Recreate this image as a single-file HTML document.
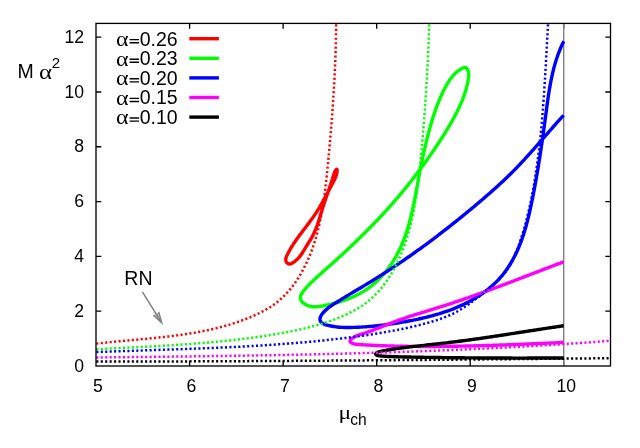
<!DOCTYPE html>
<html><head><meta charset="utf-8"><title>M alpha^2 vs mu_ch</title>
<style>
html,body{margin:0;padding:0;background:#fff;}
body{width:640px;height:448px;overflow:hidden;position:relative;font-family:"Liberation Sans",sans-serif;}
svg text{font-family:"Liberation Sans",sans-serif;fill:#000;}
svg text.sy{font-family:"Liberation Serif",serif;font-size:20px;}
</style></head><body>
<svg width="640" height="448" viewBox="0 0 640 448" style="position:absolute;left:0;top:0;will-change:transform">
<rect x="0" y="0" width="640" height="448" fill="#fff"/>
<defs><clipPath id="c"><rect x="96.0" y="23.4" width="514.5" height="342.6"/></clipPath></defs>
<path d="M189.59 366.00v-5.2M189.59 23.45v5.2M283.12 366.00v-5.2M283.12 23.45v5.2M376.66 366.00v-5.2M376.66 23.45v5.2M470.20 366.00v-5.2M470.20 23.45v5.2M563.73 366.00v-5.2M563.73 23.45v5.2M96.05 311.19h5.2M610.50 311.19h-5.2M96.05 256.38h5.2M610.50 256.38h-5.2M96.05 201.58h5.2M610.50 201.58h-5.2M96.05 146.77h5.2M610.50 146.77h-5.2M96.05 91.96h5.2M610.50 91.96h-5.2M96.05 37.15h5.2M610.50 37.15h-5.2" stroke="#000" stroke-width="1.33" fill="none"/>
<path d="M563.7 23.4V366.0" stroke="#808080" stroke-width="1.4" fill="none"/>
<g clip-path="url(#c)" fill="none" stroke-linejoin="round">
<path d="M288.17 263.74 C287.83 263.58 287.50 263.34 287.21 263.06 C286.92 262.79 286.65 262.44 286.44 262.08 C286.22 261.73 286.05 261.33 285.93 260.94 C285.82 260.55 285.77 260.15 285.75 259.75 C285.74 259.35 285.78 258.95 285.85 258.55 C285.92 258.15 286.04 257.75 286.17 257.35 C286.29 256.95 286.46 256.55 286.63 256.16 C286.80 255.76 286.99 255.37 287.17 254.98 C287.36 254.60 287.55 254.21 287.75 253.84 C287.94 253.46 288.13 253.09 288.32 252.72 C288.51 252.35 288.71 251.98 288.90 251.62 C289.09 251.26 289.29 250.91 289.48 250.55 C289.68 250.20 289.88 249.85 290.08 249.50 C290.28 249.16 290.48 248.81 290.68 248.47 C290.88 248.13 291.08 247.79 291.29 247.45 C291.49 247.11 291.70 246.77 291.91 246.43 C292.11 246.10 292.32 245.76 292.54 245.43 C292.75 245.09 292.96 244.76 293.18 244.43 C293.39 244.09 293.61 243.76 293.83 243.43 C294.05 243.10 294.27 242.77 294.49 242.44 C294.71 242.11 294.94 241.78 295.16 241.45 C295.39 241.12 295.61 240.79 295.84 240.46 C296.07 240.14 296.30 239.81 296.53 239.48 C296.76 239.16 296.99 238.83 297.23 238.50 C297.46 238.18 297.69 237.85 297.93 237.53 C298.16 237.20 298.40 236.88 298.64 236.56 C298.87 236.23 299.11 235.91 299.35 235.59 C299.59 235.26 299.83 234.94 300.07 234.62 C300.31 234.29 300.55 233.97 300.79 233.65 C301.03 233.33 301.27 233.01 301.52 232.68 C301.76 232.36 302.00 232.04 302.25 231.72 C302.49 231.40 302.74 231.08 302.98 230.75 C303.22 230.43 303.47 230.11 303.71 229.79 C303.96 229.47 304.20 229.15 304.45 228.83 C304.69 228.50 304.94 228.18 305.18 227.86 C305.43 227.54 305.68 227.22 305.92 226.90 C306.17 226.57 306.41 226.25 306.66 225.93 C306.90 225.61 307.15 225.29 307.39 224.96 C307.63 224.64 307.88 224.32 308.12 223.99 C308.37 223.67 308.61 223.35 308.85 223.02 C309.09 222.70 309.34 222.38 309.58 222.05 C309.82 221.73 310.06 221.40 310.30 221.08 C310.54 220.75 310.78 220.43 311.02 220.10 C311.26 219.77 311.50 219.45 311.73 219.12 C311.97 218.79 312.21 218.46 312.44 218.13 C312.67 217.81 312.91 217.48 313.14 217.15 C313.37 216.82 313.61 216.49 313.84 216.15 C314.07 215.82 314.30 215.49 314.52 215.16 C314.75 214.83 314.98 214.49 315.20 214.16 C315.43 213.82 315.65 213.49 315.87 213.15 C316.10 212.82 316.32 212.48 316.53 212.14 C316.75 211.80 316.97 211.47 317.19 211.13 C317.40 210.79 317.62 210.45 317.83 210.11 C318.04 209.76 318.25 209.42 318.46 209.08 C318.67 208.74 318.88 208.39 319.09 208.05 C319.30 207.71 319.50 207.36 319.71 207.02 C319.91 206.67 320.12 206.32 320.32 205.98 C320.52 205.63 320.72 205.28 320.93 204.93 C321.13 204.59 321.33 204.24 321.52 203.89 C321.72 203.54 321.92 203.19 322.12 202.84 C322.32 202.49 322.51 202.14 322.71 201.79 C322.90 201.44 323.10 201.08 323.29 200.73 C323.49 200.38 323.68 200.03 323.87 199.68 C324.06 199.32 324.26 198.97 324.45 198.62 C324.64 198.26 324.83 197.91 325.02 197.55 C325.21 197.20 325.40 196.84 325.59 196.49 C325.78 196.14 325.97 195.78 326.16 195.43 C326.35 195.07 326.54 194.71 326.73 194.36 C326.92 194.00 327.11 193.65 327.30 193.29 C327.48 192.94 327.67 192.58 327.86 192.22 C328.05 191.87 328.24 191.51 328.43 191.15 C328.62 190.80 328.80 190.44 328.99 190.09 C329.18 189.73 329.37 189.37 329.56 189.02 C329.75 188.66 329.94 188.30 330.13 187.95 C330.32 187.59 330.51 187.24 330.70 186.88 C330.89 186.52 331.08 186.17 331.27 185.81 C331.47 185.46 331.66 185.10 331.85 184.75 C332.04 184.39 332.24 184.04 332.43 183.68 C332.62 183.32 332.82 182.97 333.01 182.61 C333.20 182.26 333.39 181.90 333.58 181.54 C333.76 181.18 333.95 180.82 334.13 180.46 C334.31 180.10 334.49 179.74 334.66 179.37 C334.83 179.01 334.99 178.64 335.15 178.27 C335.31 177.89 335.47 177.52 335.61 177.14 C335.76 176.76 335.90 176.38 336.03 175.99 C336.16 175.61 336.28 175.22 336.39 174.82 C336.50 174.43 336.60 174.03 336.69 173.62 C336.78 173.22 336.86 172.81 336.93 172.39 C336.99 171.97 337.05 171.53 337.08 171.12 C337.12 170.72 337.15 170.25 337.12 169.96 C337.09 169.66 337.02 169.39 336.89 169.33 C336.75 169.27 336.52 169.40 336.30 169.59 C336.08 169.78 335.80 170.13 335.57 170.45 C335.34 170.78 335.13 171.15 334.94 171.53 C334.74 171.90 334.58 172.30 334.42 172.70 C334.26 173.10 334.12 173.52 333.99 173.93 C333.85 174.34 333.73 174.77 333.60 175.18 C333.48 175.59 333.35 176.01 333.23 176.41 C333.11 176.82 332.98 177.22 332.86 177.62 C332.73 178.02 332.61 178.41 332.49 178.80 C332.36 179.19 332.24 179.58 332.12 179.96 C331.99 180.34 331.87 180.72 331.74 181.10 C331.62 181.48 331.49 181.86 331.37 182.23 C331.24 182.61 331.12 182.98 330.99 183.36 C330.87 183.73 330.74 184.10 330.62 184.48 C330.49 184.85 330.36 185.22 330.24 185.60 C330.11 185.97 329.98 186.35 329.85 186.72 C329.73 187.09 329.60 187.47 329.47 187.85 C329.34 188.22 329.21 188.60 329.08 188.97 C328.95 189.35 328.82 189.73 328.69 190.10 C328.56 190.48 328.43 190.86 328.30 191.23 C328.17 191.61 328.04 191.99 327.91 192.37 C327.78 192.75 327.65 193.13 327.52 193.51 C327.39 193.88 327.26 194.26 327.13 194.64 C327.00 195.02 326.87 195.40 326.73 195.78 C326.60 196.16 326.47 196.55 326.34 196.93 C326.21 197.31 326.08 197.69 325.95 198.07 C325.82 198.45 325.69 198.83 325.56 199.22 C325.43 199.60 325.30 199.98 325.17 200.36 C325.04 200.75 324.92 201.13 324.79 201.51 C324.66 201.90 324.53 202.28 324.40 202.66 C324.27 203.05 324.15 203.43 324.02 203.82 C323.89 204.20 323.77 204.59 323.64 204.97 C323.51 205.35 323.39 205.74 323.26 206.12 C323.14 206.51 323.02 206.89 322.89 207.28 C322.77 207.67 322.65 208.05 322.52 208.44 C322.40 208.82 322.28 209.21 322.16 209.60 C322.04 209.98 321.92 210.37 321.80 210.75 C321.68 211.14 321.56 211.53 321.44 211.91 C321.32 212.30 321.20 212.69 321.09 213.07 C320.97 213.46 320.85 213.85 320.73 214.23 C320.62 214.62 320.50 215.01 320.38 215.39 C320.27 215.78 320.15 216.16 320.03 216.55 C319.91 216.94 319.79 217.32 319.67 217.71 C319.56 218.09 319.44 218.48 319.32 218.86 C319.20 219.25 319.08 219.63 318.95 220.01 C318.83 220.40 318.71 220.78 318.59 221.16 C318.46 221.55 318.34 221.93 318.21 222.31 C318.08 222.69 317.96 223.07 317.83 223.45 C317.70 223.83 317.57 224.21 317.44 224.59 C317.30 224.97 317.17 225.35 317.03 225.72 C316.90 226.10 316.76 226.48 316.62 226.85 C316.48 227.23 316.34 227.60 316.19 227.98 C316.05 228.35 315.90 228.72 315.75 229.10 C315.60 229.47 315.45 229.84 315.29 230.21 C315.14 230.58 314.98 230.95 314.82 231.31 C314.66 231.68 314.50 232.05 314.33 232.41 C314.17 232.78 314.00 233.14 313.82 233.50 C313.65 233.87 313.47 234.23 313.29 234.59 C313.11 234.95 312.93 235.30 312.74 235.66 C312.56 236.02 312.37 236.37 312.17 236.73 C311.98 237.08 311.78 237.43 311.58 237.79 C311.38 238.14 311.17 238.49 310.97 238.84 C310.76 239.19 310.55 239.53 310.34 239.88 C310.13 240.23 309.92 240.57 309.71 240.92 C309.49 241.27 309.28 241.61 309.06 241.95 C308.85 242.30 308.63 242.64 308.42 242.99 C308.20 243.33 307.98 243.67 307.77 244.02 C307.55 244.36 307.34 244.70 307.12 245.05 C306.91 245.39 306.70 245.73 306.48 246.08 C306.27 246.42 306.06 246.77 305.85 247.11 C305.65 247.45 305.44 247.80 305.23 248.14 C305.03 248.49 304.82 248.83 304.62 249.17 C304.41 249.52 304.20 249.86 304.00 250.20 C303.79 250.54 303.58 250.88 303.37 251.22 C303.16 251.56 302.95 251.90 302.74 252.23 C302.53 252.57 302.31 252.90 302.09 253.23 C301.87 253.56 301.65 253.89 301.42 254.22 C301.20 254.55 300.97 254.87 300.73 255.19 C300.50 255.51 300.26 255.83 300.01 256.15 C299.77 256.46 299.52 256.77 299.26 257.08 C299.00 257.39 298.74 257.69 298.47 257.99 C298.19 258.29 297.92 258.59 297.63 258.88 C297.35 259.17 297.05 259.45 296.75 259.74 C296.45 260.02 296.14 260.29 295.82 260.57 C295.50 260.84 295.17 261.10 294.83 261.36 C294.49 261.62 294.14 261.88 293.78 262.13 C293.42 262.37 293.04 262.62 292.66 262.84 C292.29 263.07 291.90 263.28 291.51 263.45 C291.13 263.62 290.74 263.77 290.36 263.86 C289.98 263.95 289.59 264.01 289.23 263.99 C288.87 263.96 288.50 263.89 288.17 263.74Z" stroke="#ff0000" stroke-width="3.4" stroke-linecap="butt"/>
<path d="M325.11 269.87 C324.49 270.42 323.87 270.96 323.25 271.50 C322.64 272.05 322.02 272.59 321.40 273.14 C320.78 273.69 320.16 274.23 319.54 274.78 C318.92 275.34 318.30 275.89 317.68 276.45 C317.06 277.01 316.44 277.58 315.82 278.15 C315.20 278.72 314.58 279.30 313.96 279.89 C313.34 280.48 312.72 281.07 312.09 281.68 C311.47 282.28 310.85 282.90 310.23 283.53 C309.61 284.15 308.98 284.79 308.36 285.44 C307.74 286.10 307.11 286.76 306.49 287.44 C305.87 288.12 305.23 288.82 304.63 289.52 C304.03 290.22 303.43 290.94 302.91 291.66 C302.39 292.38 301.89 293.10 301.50 293.83 C301.11 294.55 300.77 295.27 300.58 295.98 C300.38 296.69 300.26 297.40 300.31 298.09 C300.36 298.78 300.56 299.47 300.88 300.12 C301.20 300.78 301.70 301.42 302.25 302.01 C302.80 302.60 303.49 303.17 304.19 303.67 C304.89 304.17 305.67 304.62 306.44 305.00 C307.20 305.38 307.99 305.68 308.78 305.94 C309.58 306.19 310.38 306.37 311.19 306.51 C312.00 306.65 312.81 306.73 313.63 306.77 C314.46 306.82 315.29 306.81 316.12 306.78 C316.95 306.75 317.79 306.67 318.63 306.58 C319.46 306.48 320.31 306.35 321.15 306.22 C321.99 306.08 322.83 305.91 323.68 305.75 C324.52 305.58 325.36 305.41 326.20 305.23 C327.04 305.05 327.88 304.86 328.71 304.67 C329.55 304.48 330.38 304.28 331.21 304.08 C332.04 303.88 332.87 303.67 333.70 303.45 C334.53 303.24 335.35 303.02 336.17 302.79 C336.99 302.56 337.81 302.33 338.62 302.08 C339.44 301.84 340.25 301.59 341.06 301.34 C341.86 301.08 342.67 300.82 343.47 300.55 C344.27 300.28 345.07 300.00 345.86 299.71 C346.65 299.42 347.44 299.13 348.22 298.83 C349.01 298.52 349.79 298.21 350.56 297.89 C351.33 297.57 352.10 297.24 352.87 296.91 C353.63 296.57 354.39 296.22 355.15 295.87 C355.90 295.51 356.65 295.15 357.40 294.77 C358.14 294.40 358.88 294.02 359.61 293.62 C360.34 293.23 361.07 292.83 361.79 292.41 C362.51 292.00 363.22 291.57 363.93 291.14 C364.64 290.71 365.34 290.26 366.03 289.81 C366.72 289.35 367.41 288.88 368.09 288.41 C368.77 287.93 369.44 287.44 370.11 286.94 C370.77 286.44 371.43 285.93 372.08 285.40 C372.73 284.88 373.38 284.35 374.01 283.81 C374.65 283.26 375.28 282.71 375.90 282.14 C376.52 281.58 377.13 281.01 377.74 280.43 C378.34 279.84 378.94 279.25 379.53 278.65 C380.12 278.05 380.70 277.44 381.28 276.82 C381.85 276.20 382.42 275.58 382.97 274.94 C383.53 274.31 384.08 273.67 384.63 273.02 C385.17 272.37 385.70 271.71 386.23 271.05 C386.76 270.39 387.28 269.72 387.79 269.04 C388.30 268.36 388.80 267.68 389.29 266.99 C389.79 266.30 390.27 265.61 390.75 264.91 C391.23 264.21 391.70 263.51 392.16 262.80 C392.62 262.09 393.07 261.37 393.51 260.65 C393.96 259.94 394.39 259.21 394.82 258.49 C395.25 257.76 395.66 257.03 396.07 256.29 C396.48 255.56 396.89 254.82 397.28 254.08 C397.67 253.34 398.06 252.60 398.43 251.85 C398.81 251.11 399.18 250.36 399.54 249.60 C399.90 248.85 400.25 248.10 400.60 247.34 C400.94 246.58 401.28 245.82 401.61 245.05 C401.94 244.29 402.26 243.52 402.58 242.75 C402.90 241.99 403.21 241.21 403.51 240.44 C403.81 239.67 404.11 238.89 404.40 238.11 C404.69 237.33 404.97 236.55 405.25 235.77 C405.53 234.98 405.80 234.20 406.06 233.41 C406.33 232.62 406.59 231.83 406.85 231.04 C407.10 230.24 407.35 229.45 407.59 228.65 C407.84 227.86 408.08 227.06 408.31 226.26 C408.55 225.46 408.78 224.66 409.00 223.85 C409.22 223.05 409.44 222.25 409.66 221.44 C409.88 220.63 410.09 219.82 410.30 219.01 C410.50 218.20 410.71 217.39 410.91 216.58 C411.11 215.77 411.30 214.95 411.50 214.14 C411.69 213.32 411.88 212.50 412.07 211.69 C412.25 210.87 412.44 210.05 412.62 209.23 C412.80 208.41 412.97 207.59 413.15 206.77 C413.32 205.94 413.50 205.12 413.67 204.30 C413.84 203.47 414.01 202.65 414.17 201.82 C414.34 201.00 414.50 200.17 414.67 199.35 C414.83 198.52 414.99 197.69 415.15 196.86 C415.31 196.04 415.47 195.21 415.62 194.38 C415.78 193.55 415.94 192.72 416.09 191.89 C416.25 191.06 416.40 190.23 416.56 189.41 C416.71 188.58 416.87 187.75 417.02 186.92 C417.17 186.09 417.33 185.26 417.48 184.43 C417.63 183.60 417.79 182.77 417.94 181.94 C418.09 181.11 418.25 180.28 418.40 179.45 C418.56 178.62 418.71 177.79 418.87 176.96 C419.03 176.13 419.18 175.31 419.34 174.48 C419.50 173.65 419.66 172.82 419.82 172.00 C419.98 171.17 420.14 170.34 420.30 169.52 C420.46 168.69 420.62 167.86 420.79 167.04 C420.95 166.21 421.12 165.39 421.28 164.56 C421.45 163.74 421.62 162.91 421.78 162.09 C421.95 161.27 422.12 160.44 422.29 159.62 C422.47 158.80 422.64 157.98 422.81 157.15 C422.99 156.33 423.16 155.51 423.34 154.69 C423.52 153.87 423.70 153.05 423.88 152.23 C424.06 151.41 424.24 150.60 424.43 149.78 C424.61 148.96 424.80 148.14 424.98 147.33 C425.17 146.51 425.36 145.69 425.55 144.88 C425.75 144.06 425.94 143.25 426.14 142.44 C426.33 141.62 426.53 140.81 426.73 140.00 C426.93 139.19 427.13 138.38 427.34 137.57 C427.54 136.76 427.75 135.95 427.96 135.14 C428.17 134.33 428.38 133.52 428.60 132.72 C428.81 131.91 429.03 131.10 429.25 130.30 C429.47 129.50 429.69 128.69 429.91 127.89 C430.14 127.09 430.36 126.28 430.59 125.48 C430.82 124.68 431.06 123.88 431.29 123.08 C431.53 122.29 431.77 121.49 432.01 120.69 C432.25 119.90 432.50 119.10 432.74 118.31 C432.99 117.51 433.24 116.72 433.50 115.93 C433.76 115.13 434.02 114.34 434.28 113.55 C434.54 112.76 434.81 111.98 435.08 111.19 C435.36 110.40 435.63 109.62 435.91 108.83 C436.20 108.05 436.48 107.27 436.77 106.49 C437.07 105.70 437.36 104.92 437.67 104.15 C437.97 103.37 438.28 102.59 438.59 101.82 C438.90 101.04 439.22 100.27 439.55 99.50 C439.88 98.72 440.21 97.95 440.55 97.18 C440.89 96.42 441.23 95.65 441.58 94.88 C441.93 94.12 442.29 93.35 442.66 92.59 C443.03 91.83 443.40 91.07 443.78 90.31 C444.16 89.55 444.55 88.80 444.95 88.04 C445.34 87.29 445.75 86.54 446.16 85.79 C446.58 85.05 447.00 84.30 447.44 83.57 C447.87 82.84 448.32 82.11 448.78 81.40 C449.24 80.69 449.72 79.98 450.21 79.29 C450.70 78.61 451.20 77.93 451.72 77.27 C452.25 76.61 452.78 75.97 453.34 75.35 C453.90 74.73 454.48 74.12 455.07 73.54 C455.67 72.96 456.29 72.40 456.93 71.87 C457.56 71.33 458.22 70.82 458.91 70.34 C459.60 69.86 460.30 69.41 461.04 68.98 C461.77 68.56 462.56 68.04 463.32 67.81 C464.08 67.59 464.93 67.37 465.61 67.64 C466.30 67.91 466.97 68.74 467.44 69.42 C467.91 70.10 468.22 70.92 468.44 71.71 C468.66 72.51 468.73 73.34 468.76 74.18 C468.79 75.02 468.71 75.89 468.63 76.75 C468.55 77.61 468.41 78.48 468.27 79.33 C468.14 80.19 467.99 81.04 467.82 81.88 C467.66 82.72 467.49 83.56 467.31 84.39 C467.12 85.22 466.93 86.05 466.72 86.87 C466.51 87.69 466.29 88.50 466.07 89.31 C465.84 90.12 465.60 90.92 465.35 91.72 C465.11 92.52 464.85 93.31 464.58 94.11 C464.31 94.90 464.04 95.68 463.75 96.46 C463.47 97.24 463.18 98.02 462.87 98.80 C462.57 99.57 462.26 100.34 461.95 101.11 C461.63 101.87 461.30 102.64 460.97 103.40 C460.64 104.16 460.30 104.92 459.96 105.67 C459.61 106.43 459.26 107.18 458.91 107.93 C458.55 108.68 458.19 109.43 457.82 110.17 C457.45 110.92 457.08 111.66 456.70 112.41 C456.32 113.15 455.94 113.89 455.55 114.63 C455.16 115.37 454.77 116.11 454.38 116.84 C453.98 117.58 453.58 118.32 453.18 119.05 C452.77 119.79 452.37 120.52 451.96 121.25 C451.54 121.98 451.13 122.71 450.71 123.44 C450.29 124.17 449.87 124.90 449.44 125.62 C449.02 126.35 448.59 127.07 448.16 127.80 C447.73 128.52 447.29 129.24 446.85 129.96 C446.42 130.69 445.98 131.41 445.53 132.12 C445.09 132.84 444.64 133.56 444.20 134.27 C443.75 134.99 443.30 135.70 442.84 136.42 C442.39 137.13 441.93 137.84 441.48 138.55 C441.02 139.26 440.56 139.97 440.10 140.68 C439.64 141.38 439.17 142.09 438.71 142.79 C438.24 143.50 437.77 144.20 437.31 144.90 C436.84 145.60 436.37 146.30 435.90 147.00 C435.43 147.70 434.95 148.40 434.48 149.10 C434.01 149.79 433.53 150.49 433.06 151.18 C432.58 151.87 432.11 152.57 431.63 153.26 C431.15 153.95 430.67 154.64 430.19 155.33 C429.71 156.01 429.23 156.70 428.75 157.39 C428.27 158.07 427.79 158.76 427.30 159.44 C426.82 160.12 426.33 160.80 425.85 161.48 C425.36 162.16 424.87 162.84 424.38 163.52 C423.89 164.20 423.40 164.87 422.91 165.55 C422.42 166.23 421.93 166.90 421.43 167.57 C420.94 168.24 420.44 168.92 419.94 169.59 C419.44 170.26 418.95 170.93 418.44 171.59 C417.94 172.26 417.44 172.93 416.94 173.59 C416.43 174.26 415.93 174.92 415.42 175.59 C414.92 176.25 414.41 176.91 413.90 177.57 C413.39 178.23 412.87 178.89 412.36 179.55 C411.85 180.21 411.33 180.87 410.81 181.52 C410.30 182.18 409.78 182.83 409.26 183.49 C408.74 184.14 408.21 184.79 407.69 185.45 C407.16 186.10 406.64 186.75 406.11 187.40 C405.58 188.05 405.05 188.70 404.52 189.34 C403.99 189.99 403.45 190.64 402.92 191.28 C402.38 191.93 401.84 192.57 401.30 193.21 C400.76 193.86 400.22 194.50 399.68 195.14 C399.14 195.78 398.59 196.42 398.05 197.06 C397.50 197.70 396.95 198.33 396.40 198.97 C395.85 199.61 395.30 200.24 394.75 200.88 C394.20 201.51 393.64 202.14 393.09 202.77 C392.53 203.41 391.98 204.04 391.42 204.67 C390.86 205.30 390.30 205.92 389.74 206.55 C389.17 207.18 388.61 207.81 388.05 208.43 C387.48 209.06 386.91 209.68 386.35 210.30 C385.78 210.93 385.21 211.55 384.64 212.17 C384.07 212.79 383.50 213.41 382.93 214.03 C382.35 214.64 381.78 215.26 381.20 215.88 C380.63 216.49 380.05 217.11 379.47 217.72 C378.89 218.34 378.31 218.95 377.73 219.56 C377.15 220.17 376.57 220.78 375.99 221.39 C375.41 222.00 374.82 222.61 374.24 223.22 C373.65 223.82 373.06 224.43 372.48 225.03 C371.89 225.64 371.30 226.24 370.71 226.85 C370.12 227.45 369.53 228.05 368.94 228.65 C368.35 229.25 367.76 229.85 367.16 230.45 C366.57 231.04 365.97 231.64 365.38 232.24 C364.78 232.83 364.19 233.43 363.59 234.02 C362.99 234.61 362.39 235.21 361.79 235.80 C361.19 236.39 360.59 236.98 359.99 237.57 C359.39 238.16 358.79 238.74 358.19 239.33 C357.59 239.92 356.98 240.50 356.38 241.09 C355.77 241.67 355.17 242.25 354.56 242.83 C353.96 243.42 353.35 244.00 352.74 244.58 C352.14 245.16 351.53 245.74 350.92 246.31 C350.31 246.89 349.71 247.47 349.10 248.04 C348.49 248.62 347.88 249.19 347.27 249.76 C346.66 250.33 346.04 250.91 345.43 251.48 C344.82 252.05 344.21 252.62 343.60 253.18 C342.98 253.75 342.37 254.32 341.76 254.88 C341.14 255.45 340.53 256.01 339.91 256.58 C339.30 257.14 338.69 257.70 338.07 258.26 C337.45 258.83 336.84 259.39 336.22 259.94 C335.61 260.50 334.99 261.06 334.37 261.62 C333.76 262.17 333.14 262.73 332.52 263.28 C331.91 263.84 331.29 264.39 330.67 264.94 C330.06 265.49 329.44 266.04 328.82 266.59 C328.20 267.14 327.58 267.69 326.97 268.24 C326.35 268.78 325.73 269.33 325.11 269.87Z" stroke="#00ff00" stroke-width="3.4" stroke-linecap="butt"/>
<path d="M563.63 115.27 C563.35 115.58 562.51 116.50 561.95 117.12 C561.39 117.74 560.83 118.35 560.27 118.97 C559.71 119.59 559.16 120.22 558.60 120.84 C558.04 121.46 557.49 122.08 556.93 122.71 C556.38 123.33 555.82 123.96 555.27 124.58 C554.72 125.21 554.16 125.84 553.61 126.46 C553.06 127.09 552.51 127.72 551.96 128.35 C551.41 128.97 550.85 129.60 550.30 130.23 C549.75 130.86 549.20 131.49 548.65 132.12 C548.10 132.75 547.55 133.38 547.00 134.01 C546.45 134.64 545.90 135.27 545.35 135.90 C544.80 136.53 544.25 137.16 543.70 137.79 C543.15 138.42 542.60 139.06 542.05 139.69 C541.50 140.32 540.95 140.95 540.40 141.58 C539.85 142.21 539.30 142.84 538.75 143.47 C538.20 144.10 537.64 144.72 537.09 145.35 C536.54 145.98 535.99 146.61 535.43 147.24 C534.88 147.86 534.32 148.49 533.77 149.12 C533.21 149.74 532.66 150.37 532.10 150.99 C531.54 151.62 530.98 152.24 530.43 152.86 C529.87 153.49 529.31 154.11 528.75 154.73 C528.18 155.35 527.62 155.97 527.06 156.59 C526.50 157.21 525.93 157.83 525.37 158.44 C524.80 159.06 524.23 159.67 523.67 160.29 C523.10 160.90 522.53 161.51 521.96 162.12 C521.38 162.74 520.81 163.34 520.24 163.95 C519.66 164.56 519.09 165.17 518.51 165.77 C517.93 166.37 517.35 166.98 516.77 167.58 C516.19 168.18 515.60 168.78 515.02 169.38 C514.43 169.97 513.85 170.57 513.26 171.16 C512.67 171.75 512.08 172.35 511.48 172.93 C510.89 173.52 510.30 174.11 509.70 174.70 C509.10 175.28 508.50 175.87 507.90 176.45 C507.30 177.03 506.70 177.61 506.09 178.19 C505.49 178.77 504.88 179.34 504.28 179.92 C503.67 180.49 503.06 181.06 502.45 181.64 C501.84 182.21 501.23 182.78 500.61 183.35 C500.00 183.91 499.38 184.48 498.76 185.05 C498.15 185.61 497.53 186.18 496.91 186.74 C496.29 187.30 495.67 187.86 495.05 188.42 C494.42 188.98 493.80 189.54 493.18 190.10 C492.55 190.65 491.92 191.21 491.30 191.76 C490.67 192.32 490.04 192.87 489.41 193.42 C488.78 193.98 488.15 194.53 487.52 195.08 C486.89 195.63 486.25 196.17 485.62 196.72 C484.99 197.27 484.35 197.82 483.72 198.36 C483.08 198.91 482.44 199.45 481.81 200.00 C481.17 200.54 480.53 201.08 479.89 201.63 C479.25 202.17 478.61 202.71 477.97 203.25 C477.33 203.79 476.69 204.33 476.05 204.87 C475.41 205.41 474.77 205.95 474.12 206.48 C473.48 207.02 472.84 207.56 472.19 208.09 C471.55 208.63 470.91 209.16 470.26 209.70 C469.62 210.23 468.97 210.77 468.32 211.30 C467.68 211.83 467.03 212.37 466.38 212.90 C465.73 213.43 465.09 213.96 464.44 214.49 C463.79 215.02 463.14 215.55 462.49 216.08 C461.84 216.61 461.19 217.14 460.54 217.66 C459.89 218.19 459.24 218.72 458.58 219.24 C457.93 219.77 457.28 220.29 456.62 220.82 C455.97 221.34 455.32 221.86 454.66 222.39 C454.01 222.91 453.35 223.43 452.70 223.95 C452.04 224.47 451.38 224.99 450.73 225.51 C450.07 226.03 449.41 226.55 448.75 227.07 C448.09 227.58 447.43 228.10 446.77 228.62 C446.11 229.13 445.45 229.65 444.79 230.16 C444.13 230.68 443.47 231.19 442.81 231.70 C442.14 232.21 441.48 232.72 440.82 233.24 C440.15 233.75 439.49 234.26 438.82 234.76 C438.16 235.27 437.49 235.78 436.83 236.29 C436.16 236.79 435.49 237.30 434.83 237.81 C434.16 238.31 433.49 238.81 432.82 239.32 C432.15 239.82 431.48 240.32 430.81 240.82 C430.14 241.33 429.47 241.83 428.80 242.33 C428.13 242.82 427.45 243.32 426.78 243.82 C426.11 244.32 425.43 244.81 424.76 245.31 C424.08 245.81 423.41 246.30 422.73 246.79 C422.06 247.29 421.38 247.78 420.70 248.27 C420.02 248.76 419.35 249.25 418.67 249.74 C417.99 250.23 417.31 250.72 416.63 251.21 C415.95 251.69 415.27 252.18 414.59 252.67 C413.90 253.15 413.22 253.64 412.54 254.12 C411.85 254.60 411.17 255.08 410.49 255.57 C409.80 256.05 409.12 256.53 408.43 257.01 C407.74 257.49 407.06 257.96 406.37 258.44 C405.68 258.92 404.99 259.39 404.30 259.87 C403.62 260.34 402.93 260.81 402.24 261.29 C401.54 261.76 400.85 262.23 400.16 262.70 C399.47 263.17 398.78 263.64 398.08 264.11 C397.39 264.58 396.70 265.04 396.00 265.51 C395.30 265.97 394.61 266.44 393.91 266.90 C393.22 267.37 392.52 267.83 391.82 268.29 C391.12 268.75 390.42 269.21 389.72 269.67 C389.02 270.13 388.32 270.58 387.62 271.04 C386.92 271.50 386.22 271.95 385.52 272.40 C384.81 272.86 384.11 273.31 383.40 273.76 C382.70 274.21 382.00 274.66 381.29 275.11 C380.58 275.56 379.88 276.01 379.17 276.46 C378.46 276.90 377.75 277.35 377.04 277.79 C376.33 278.24 375.62 278.68 374.91 279.12 C374.20 279.56 373.49 280.00 372.78 280.44 C372.07 280.88 371.35 281.32 370.64 281.75 C369.92 282.19 369.21 282.63 368.49 283.06 C367.78 283.49 367.06 283.93 366.34 284.36 C365.63 284.79 364.91 285.22 364.19 285.65 C363.47 286.08 362.75 286.51 362.04 286.94 C361.32 287.37 360.60 287.80 359.88 288.22 C359.16 288.65 358.44 289.08 357.72 289.51 C357.00 289.93 356.28 290.36 355.56 290.79 C354.84 291.22 354.12 291.65 353.41 292.07 C352.69 292.50 351.97 292.93 351.25 293.36 C350.53 293.79 349.81 294.22 349.10 294.65 C348.38 295.08 347.66 295.51 346.95 295.94 C346.23 296.38 345.52 296.81 344.80 297.24 C344.09 297.68 343.38 298.11 342.66 298.55 C341.95 298.99 341.24 299.43 340.53 299.87 C339.82 300.31 339.11 300.75 338.40 301.19 C337.70 301.64 336.99 302.08 336.28 302.53 C335.58 302.98 334.88 303.43 334.17 303.88 C333.47 304.33 332.77 304.78 332.07 305.25 C331.38 305.71 330.68 306.18 330.00 306.67 C329.31 307.16 328.63 307.66 327.96 308.19 C327.29 308.73 326.62 309.28 325.97 309.87 C325.32 310.47 324.67 311.09 324.06 311.75 C323.45 312.41 322.83 313.12 322.30 313.83 C321.78 314.54 321.28 315.28 320.91 316.00 C320.54 316.71 320.23 317.45 320.09 318.14 C319.94 318.83 319.91 319.52 320.04 320.15 C320.16 320.77 320.44 321.37 320.83 321.90 C321.23 322.42 321.78 322.88 322.41 323.29 C323.03 323.69 323.80 324.03 324.58 324.33 C325.36 324.63 326.24 324.88 327.10 325.11 C327.96 325.34 328.85 325.54 329.72 325.73 C330.59 325.91 331.46 326.08 332.33 326.23 C333.19 326.38 334.05 326.52 334.91 326.64 C335.77 326.76 336.62 326.86 337.47 326.95 C338.33 327.04 339.17 327.12 340.02 327.18 C340.87 327.25 341.71 327.30 342.55 327.34 C343.39 327.38 344.23 327.41 345.07 327.44 C345.91 327.46 346.75 327.47 347.58 327.47 C348.42 327.48 349.25 327.48 350.09 327.47 C350.92 327.46 351.76 327.44 352.59 327.42 C353.42 327.40 354.26 327.38 355.09 327.35 C355.92 327.32 356.76 327.29 357.59 327.25 C358.42 327.22 359.26 327.18 360.09 327.14 C360.92 327.09 361.76 327.05 362.59 326.99 C363.42 326.94 364.26 326.89 365.09 326.83 C365.92 326.77 366.76 326.71 367.59 326.65 C368.42 326.58 369.26 326.51 370.09 326.44 C370.92 326.37 371.76 326.30 372.59 326.22 C373.42 326.14 374.25 326.06 375.09 325.97 C375.92 325.89 376.75 325.80 377.58 325.71 C378.42 325.62 379.25 325.52 380.08 325.43 C380.91 325.33 381.74 325.23 382.57 325.13 C383.41 325.02 384.24 324.92 385.07 324.81 C385.90 324.70 386.73 324.59 387.56 324.47 C388.39 324.36 389.22 324.24 390.05 324.12 C390.88 324.00 391.71 323.88 392.54 323.76 C393.37 323.63 394.20 323.50 395.03 323.37 C395.85 323.24 396.68 323.11 397.51 322.98 C398.34 322.84 399.17 322.71 399.99 322.57 C400.82 322.43 401.65 322.29 402.47 322.14 C403.30 322.00 404.12 321.85 404.95 321.71 C405.77 321.56 406.60 321.41 407.42 321.26 C408.25 321.10 409.07 320.95 409.90 320.79 C410.72 320.63 411.54 320.48 412.36 320.31 C413.19 320.15 414.01 319.99 414.83 319.82 C415.65 319.65 416.47 319.48 417.29 319.31 C418.11 319.13 418.93 318.96 419.74 318.78 C420.56 318.60 421.38 318.42 422.19 318.23 C423.01 318.04 423.82 317.85 424.64 317.66 C425.45 317.47 426.26 317.27 427.07 317.07 C427.88 316.87 428.69 316.66 429.50 316.46 C430.31 316.25 431.12 316.04 431.93 315.82 C432.73 315.60 433.54 315.38 434.34 315.16 C435.15 314.93 435.95 314.70 436.75 314.47 C437.55 314.23 438.35 314.00 439.15 313.75 C439.95 313.51 440.74 313.26 441.54 313.01 C442.33 312.75 443.13 312.50 443.92 312.23 C444.71 311.97 445.50 311.70 446.29 311.43 C447.08 311.16 447.86 310.88 448.65 310.59 C449.43 310.31 450.22 310.02 451.00 309.72 C451.78 309.43 452.56 309.13 453.34 308.82 C454.11 308.51 454.89 308.20 455.66 307.88 C456.43 307.56 457.21 307.24 457.97 306.91 C458.74 306.58 459.51 306.24 460.28 305.89 C461.04 305.55 461.80 305.20 462.56 304.84 C463.32 304.49 464.08 304.12 464.84 303.75 C465.59 303.38 466.35 303.01 467.10 302.62 C467.85 302.24 468.59 301.85 469.34 301.45 C470.08 301.05 470.82 300.65 471.56 300.24 C472.29 299.83 473.03 299.41 473.75 298.98 C474.48 298.56 475.21 298.13 475.93 297.69 C476.65 297.25 477.36 296.80 478.07 296.35 C478.78 295.90 479.49 295.44 480.19 294.97 C480.89 294.50 481.59 294.03 482.28 293.55 C482.97 293.07 483.65 292.58 484.33 292.08 C485.01 291.59 485.68 291.08 486.35 290.57 C487.02 290.06 487.68 289.54 488.33 289.02 C488.98 288.49 489.63 287.96 490.27 287.42 C490.91 286.88 491.54 286.33 492.17 285.78 C492.79 285.22 493.41 284.66 494.02 284.09 C494.63 283.52 495.24 282.94 495.83 282.36 C496.43 281.77 497.01 281.18 497.59 280.58 C498.17 279.98 498.74 279.37 499.30 278.75 C499.86 278.14 500.41 277.51 500.96 276.88 C501.50 276.25 502.03 275.61 502.56 274.96 C503.09 274.32 503.60 273.66 504.11 273.00 C504.62 272.34 505.12 271.68 505.61 271.00 C506.10 270.33 506.58 269.65 507.06 268.96 C507.53 268.28 508.00 267.58 508.46 266.88 C508.92 266.19 509.37 265.48 509.81 264.77 C510.25 264.06 510.68 263.35 511.11 262.63 C511.54 261.91 511.95 261.18 512.36 260.45 C512.77 259.72 513.18 258.99 513.57 258.25 C513.97 257.51 514.36 256.77 514.74 256.02 C515.12 255.27 515.49 254.52 515.85 253.77 C516.22 253.01 516.58 252.25 516.93 251.49 C517.28 250.73 517.62 249.96 517.96 249.20 C518.30 248.43 518.63 247.66 518.95 246.89 C519.28 246.11 519.59 245.34 519.90 244.56 C520.21 243.78 520.52 243.00 520.81 242.22 C521.11 241.43 521.40 240.65 521.69 239.86 C521.97 239.08 522.25 238.29 522.52 237.50 C522.80 236.71 523.06 235.91 523.33 235.12 C523.59 234.32 523.84 233.53 524.10 232.73 C524.35 231.93 524.59 231.13 524.84 230.33 C525.08 229.53 525.31 228.72 525.55 227.92 C525.78 227.12 526.01 226.31 526.23 225.50 C526.45 224.69 526.67 223.89 526.89 223.08 C527.10 222.27 527.32 221.46 527.52 220.64 C527.73 219.83 527.94 219.02 528.14 218.20 C528.34 217.39 528.54 216.58 528.73 215.76 C528.92 214.94 529.12 214.13 529.30 213.31 C529.49 212.49 529.68 211.67 529.86 210.86 C530.05 210.04 530.23 209.22 530.41 208.40 C530.59 207.58 530.76 206.76 530.94 205.94 C531.11 205.12 531.29 204.30 531.46 203.48 C531.63 202.66 531.80 201.83 531.97 201.01 C532.14 200.19 532.30 199.37 532.47 198.55 C532.63 197.73 532.80 196.91 532.96 196.08 C533.12 195.26 533.29 194.44 533.45 193.62 C533.61 192.80 533.77 191.97 533.92 191.15 C534.08 190.33 534.24 189.51 534.39 188.68 C534.55 187.86 534.70 187.04 534.85 186.22 C535.01 185.39 535.16 184.57 535.31 183.75 C535.46 182.92 535.61 182.10 535.76 181.28 C535.90 180.45 536.05 179.63 536.20 178.81 C536.34 177.98 536.49 177.16 536.63 176.33 C536.77 175.51 536.91 174.69 537.06 173.86 C537.20 173.04 537.34 172.21 537.48 171.39 C537.62 170.56 537.75 169.74 537.89 168.91 C538.03 168.09 538.16 167.26 538.30 166.44 C538.43 165.61 538.57 164.79 538.70 163.96 C538.84 163.14 538.97 162.31 539.10 161.49 C539.23 160.66 539.36 159.83 539.49 159.01 C539.62 158.18 539.75 157.35 539.88 156.53 C540.01 155.70 540.13 154.88 540.26 154.05 C540.39 153.22 540.51 152.40 540.64 151.57 C540.76 150.74 540.89 149.91 541.01 149.09 C541.13 148.26 541.25 147.43 541.38 146.60 C541.50 145.78 541.62 144.95 541.74 144.12 C541.86 143.29 541.98 142.46 542.10 141.64 C542.22 140.81 542.34 139.98 542.46 139.15 C542.58 138.32 542.69 137.49 542.81 136.66 C542.93 135.84 543.04 135.01 543.16 134.18 C543.28 133.35 543.39 132.52 543.51 131.69 C543.62 130.86 543.74 130.03 543.85 129.20 C543.96 128.37 544.08 127.54 544.19 126.71 C544.30 125.88 544.42 125.05 544.53 124.22 C544.64 123.39 544.75 122.56 544.87 121.73 C544.98 120.90 545.09 120.07 545.20 119.23 C545.31 118.40 545.42 117.57 545.53 116.74 C545.64 115.91 545.75 115.08 545.86 114.25 C545.97 113.41 546.08 112.58 546.19 111.75 C546.30 110.92 546.41 110.09 546.52 109.25 C546.63 108.42 546.74 107.59 546.86 106.76 C546.97 105.93 547.08 105.10 547.19 104.26 C547.31 103.43 547.42 102.60 547.54 101.77 C547.66 100.94 547.77 100.11 547.89 99.28 C548.01 98.45 548.13 97.62 548.25 96.79 C548.38 95.96 548.50 95.13 548.63 94.30 C548.76 93.47 548.89 92.65 549.02 91.82 C549.15 90.99 549.29 90.17 549.42 89.34 C549.56 88.51 549.70 87.69 549.85 86.86 C549.99 86.04 550.14 85.22 550.29 84.39 C550.44 83.57 550.59 82.75 550.75 81.93 C550.91 81.11 551.07 80.29 551.24 79.47 C551.40 78.65 551.57 77.83 551.75 77.02 C551.92 76.20 552.10 75.39 552.29 74.57 C552.47 73.76 552.66 72.94 552.85 72.13 C553.05 71.32 553.25 70.51 553.45 69.70 C553.66 68.89 553.87 68.09 554.08 67.28 C554.30 66.48 554.52 65.67 554.75 64.87 C554.97 64.07 555.21 63.26 555.45 62.46 C555.69 61.67 555.93 60.87 556.19 60.07 C556.44 59.28 556.70 58.48 556.97 57.69 C557.23 56.90 557.51 56.11 557.79 55.32 C558.07 54.53 558.35 53.74 558.65 52.96 C558.95 52.17 559.25 51.39 559.56 50.61 C559.87 49.83 560.19 49.05 560.52 48.27 C560.84 47.50 561.18 46.72 561.52 45.95 C561.87 45.18 562.22 44.41 562.58 43.64 C562.94 42.88 563.51 41.73 563.69 41.35" stroke="#0000ff" stroke-width="3.4" stroke-linecap="butt"/>
<path d="M563.72 261.76 C563.32 261.90 562.14 262.35 561.35 262.65 C560.56 262.95 559.77 263.25 558.98 263.55 C558.19 263.84 557.41 264.14 556.62 264.44 C555.83 264.74 555.04 265.04 554.25 265.34 C553.47 265.64 552.68 265.94 551.89 266.25 C551.11 266.55 550.32 266.85 549.53 267.15 C548.74 267.45 547.96 267.75 547.17 268.05 C546.38 268.35 545.60 268.66 544.81 268.96 C544.03 269.26 543.24 269.56 542.45 269.86 C541.67 270.17 540.88 270.47 540.09 270.77 C539.31 271.07 538.52 271.37 537.74 271.68 C536.95 271.98 536.17 272.28 535.38 272.58 C534.59 272.89 533.81 273.19 533.02 273.49 C532.24 273.79 531.45 274.10 530.67 274.40 C529.88 274.70 529.10 275.00 528.31 275.31 C527.53 275.61 526.74 275.91 525.95 276.21 C525.17 276.51 524.38 276.82 523.60 277.12 C522.81 277.42 522.03 277.72 521.24 278.02 C520.46 278.32 519.67 278.63 518.89 278.93 C518.10 279.23 517.31 279.53 516.53 279.83 C515.74 280.13 514.96 280.43 514.17 280.73 C513.39 281.03 512.60 281.33 511.81 281.63 C511.03 281.93 510.24 282.23 509.46 282.53 C508.67 282.83 507.88 283.12 507.10 283.42 C506.31 283.72 505.52 284.02 504.74 284.32 C503.95 284.61 503.16 284.91 502.38 285.21 C501.59 285.50 500.80 285.80 500.02 286.10 C499.23 286.39 498.44 286.69 497.65 286.98 C496.87 287.28 496.08 287.57 495.29 287.86 C494.50 288.16 493.71 288.45 492.93 288.74 C492.14 289.04 491.35 289.33 490.56 289.62 C489.77 289.91 488.98 290.20 488.19 290.49 C487.40 290.78 486.61 291.07 485.82 291.36 C485.03 291.65 484.24 291.94 483.45 292.23 C482.66 292.51 481.87 292.80 481.08 293.09 C480.29 293.37 479.50 293.66 478.71 293.94 C477.92 294.23 477.13 294.51 476.33 294.79 C475.54 295.08 474.75 295.36 473.96 295.64 C473.16 295.92 472.37 296.20 471.58 296.48 C470.78 296.76 469.99 297.04 469.19 297.32 C468.40 297.60 467.61 297.88 466.81 298.15 C466.02 298.43 465.22 298.70 464.42 298.98 C463.63 299.25 462.83 299.53 462.04 299.80 C461.24 300.07 460.44 300.34 459.65 300.61 C458.85 300.89 458.05 301.15 457.25 301.42 C456.45 301.69 455.65 301.96 454.86 302.23 C454.06 302.49 453.26 302.76 452.46 303.02 C451.66 303.29 450.86 303.55 450.06 303.81 C449.25 304.07 448.45 304.33 447.65 304.59 C446.85 304.85 446.05 305.11 445.24 305.37 C444.44 305.63 443.64 305.88 442.83 306.14 C442.03 306.39 441.22 306.65 440.42 306.90 C439.61 307.15 438.81 307.40 438.00 307.66 C437.20 307.91 436.39 308.16 435.58 308.41 C434.78 308.66 433.97 308.90 433.16 309.15 C432.36 309.40 431.55 309.65 430.74 309.90 C429.94 310.14 429.13 310.39 428.32 310.64 C427.51 310.89 426.71 311.14 425.90 311.38 C425.09 311.63 424.29 311.88 423.48 312.13 C422.68 312.38 421.87 312.63 421.06 312.88 C420.26 313.13 419.45 313.38 418.65 313.63 C417.84 313.88 417.04 314.13 416.24 314.39 C415.43 314.64 414.63 314.89 413.83 315.15 C413.03 315.41 412.22 315.66 411.42 315.92 C410.62 316.18 409.82 316.44 409.02 316.70 C408.23 316.97 407.43 317.23 406.63 317.49 C405.83 317.76 405.04 318.03 404.24 318.30 C403.45 318.57 402.65 318.84 401.86 319.12 C401.07 319.39 400.28 319.67 399.49 319.95 C398.70 320.23 397.91 320.51 397.12 320.80 C396.34 321.08 395.55 321.37 394.77 321.66 C393.98 321.95 393.20 322.25 392.42 322.54 C391.64 322.84 390.86 323.14 390.08 323.45 C389.30 323.75 388.53 324.05 387.75 324.36 C386.97 324.67 386.20 324.98 385.42 325.29 C384.64 325.60 383.87 325.91 383.09 326.22 C382.31 326.53 381.53 326.84 380.75 327.15 C379.97 327.46 379.19 327.77 378.40 328.08 C377.62 328.39 376.83 328.70 376.04 329.00 C375.26 329.31 374.46 329.61 373.67 329.91 C372.87 330.21 372.08 330.51 371.27 330.80 C370.47 331.09 369.66 331.38 368.85 331.67 C368.04 331.95 367.22 332.23 366.40 332.51 C365.58 332.78 364.75 333.05 363.92 333.32 C363.09 333.59 362.25 333.84 361.43 334.12 C360.60 334.39 359.78 334.66 358.97 334.95 C358.17 335.25 357.37 335.55 356.61 335.89 C355.84 336.22 355.10 336.57 354.39 336.97 C353.68 337.37 352.99 337.79 352.36 338.26 C351.73 338.73 350.97 339.26 350.58 339.81 C350.19 340.35 349.85 341.00 350.02 341.53 C350.19 342.06 350.97 342.58 351.60 342.97 C352.23 343.36 353.01 343.64 353.79 343.86 C354.56 344.09 355.41 344.22 356.25 344.33 C357.10 344.45 357.99 344.50 358.87 344.56 C359.75 344.62 360.64 344.67 361.52 344.72 C362.40 344.77 363.27 344.82 364.15 344.86 C365.02 344.91 365.89 344.96 366.76 345.00 C367.63 345.05 368.49 345.09 369.36 345.14 C370.22 345.18 371.08 345.22 371.94 345.26 C372.80 345.30 373.66 345.34 374.51 345.38 C375.37 345.42 376.22 345.45 377.07 345.49 C377.92 345.53 378.77 345.56 379.62 345.59 C380.47 345.63 381.31 345.66 382.16 345.69 C383.00 345.72 383.84 345.75 384.69 345.78 C385.53 345.81 386.37 345.84 387.21 345.86 C388.05 345.89 388.89 345.92 389.73 345.94 C390.57 345.96 391.40 345.99 392.24 346.01 C393.08 346.03 393.91 346.06 394.75 346.08 C395.58 346.10 396.42 346.12 397.25 346.14 C398.09 346.16 398.92 346.17 399.76 346.19 C400.59 346.21 401.43 346.22 402.26 346.24 C403.10 346.25 403.93 346.27 404.77 346.28 C405.60 346.30 406.44 346.31 407.28 346.32 C408.11 346.33 408.95 346.35 409.78 346.36 C410.62 346.37 411.46 346.38 412.29 346.39 C413.13 346.40 413.97 346.40 414.80 346.41 C415.64 346.42 416.48 346.42 417.32 346.43 C418.15 346.44 418.99 346.44 419.83 346.45 C420.67 346.45 421.51 346.45 422.35 346.46 C423.18 346.46 424.02 346.46 424.86 346.46 C425.70 346.47 426.54 346.47 427.38 346.47 C428.22 346.47 429.06 346.47 429.90 346.47 C430.74 346.46 431.58 346.46 432.42 346.46 C433.26 346.46 434.10 346.45 434.94 346.45 C435.78 346.45 436.62 346.44 437.46 346.44 C438.30 346.43 439.14 346.42 439.98 346.42 C440.82 346.41 441.66 346.40 442.50 346.40 C443.34 346.39 444.18 346.38 445.02 346.37 C445.87 346.36 446.71 346.35 447.55 346.34 C448.39 346.33 449.23 346.32 450.07 346.31 C450.92 346.30 451.76 346.29 452.60 346.27 C453.44 346.26 454.28 346.25 455.13 346.23 C455.97 346.22 456.81 346.21 457.65 346.19 C458.49 346.18 459.34 346.16 460.18 346.14 C461.02 346.13 461.86 346.11 462.71 346.10 C463.55 346.08 464.39 346.06 465.24 346.04 C466.08 346.03 466.92 346.01 467.76 345.99 C468.61 345.97 469.45 345.95 470.29 345.93 C471.14 345.91 471.98 345.89 472.82 345.87 C473.67 345.85 474.51 345.83 475.35 345.80 C476.19 345.78 477.04 345.76 477.88 345.74 C478.72 345.72 479.57 345.69 480.41 345.67 C481.25 345.65 482.10 345.62 482.94 345.60 C483.78 345.57 484.63 345.55 485.47 345.52 C486.31 345.50 487.16 345.47 488.00 345.45 C488.84 345.42 489.69 345.39 490.53 345.37 C491.37 345.34 492.22 345.31 493.06 345.29 C493.90 345.26 494.75 345.23 495.59 345.20 C496.43 345.18 497.27 345.15 498.12 345.12 C498.96 345.09 499.80 345.06 500.65 345.03 C501.49 345.00 502.33 344.97 503.18 344.94 C504.02 344.91 504.86 344.88 505.70 344.85 C506.55 344.82 507.39 344.79 508.23 344.76 C509.07 344.73 509.92 344.70 510.76 344.66 C511.60 344.63 512.44 344.60 513.29 344.57 C514.13 344.54 514.97 344.50 515.81 344.47 C516.66 344.44 517.50 344.40 518.34 344.37 C519.18 344.34 520.02 344.30 520.86 344.27 C521.71 344.24 522.55 344.20 523.39 344.17 C524.23 344.14 525.07 344.10 525.91 344.07 C526.75 344.03 527.60 344.00 528.44 343.96 C529.28 343.93 530.12 343.89 530.96 343.86 C531.80 343.82 532.64 343.79 533.48 343.75 C534.32 343.72 535.16 343.68 536.00 343.65 C536.84 343.61 537.68 343.57 538.52 343.54 C539.36 343.50 540.20 343.47 541.04 343.43 C541.88 343.39 542.72 343.36 543.56 343.32 C544.40 343.29 545.24 343.25 546.07 343.21 C546.91 343.18 547.75 343.14 548.59 343.10 C549.43 343.07 550.27 343.03 551.10 342.99 C551.94 342.96 552.78 342.92 553.62 342.88 C554.46 342.85 555.29 342.81 556.13 342.77 C556.97 342.74 557.80 342.70 558.64 342.66 C559.48 342.62 560.31 342.59 561.15 342.55 C561.99 342.51 563.24 342.46 563.66 342.44" stroke="#ff00ff" stroke-width="3.4" stroke-linecap="butt"/>
<path d="M563.69 325.75 C563.28 325.81 562.04 325.99 561.21 326.11 C560.38 326.23 559.55 326.35 558.72 326.47 C557.89 326.59 557.07 326.71 556.24 326.83 C555.41 326.96 554.58 327.08 553.75 327.20 C552.92 327.32 552.10 327.45 551.27 327.57 C550.44 327.69 549.61 327.82 548.78 327.94 C547.95 328.07 547.12 328.19 546.29 328.32 C545.47 328.44 544.64 328.57 543.81 328.69 C542.98 328.82 542.15 328.95 541.32 329.07 C540.49 329.20 539.66 329.33 538.83 329.45 C538.00 329.58 537.18 329.71 536.35 329.84 C535.52 329.96 534.69 330.09 533.86 330.22 C533.03 330.35 532.20 330.48 531.37 330.60 C530.54 330.73 529.71 330.86 528.88 330.99 C528.05 331.12 527.22 331.25 526.39 331.37 C525.56 331.50 524.73 331.63 523.90 331.76 C523.07 331.89 522.24 332.02 521.41 332.15 C520.58 332.28 519.75 332.41 518.92 332.54 C518.09 332.66 517.26 332.79 516.43 332.92 C515.60 333.05 514.77 333.18 513.94 333.31 C513.11 333.44 512.28 333.57 511.45 333.69 C510.62 333.82 509.79 333.95 508.96 334.08 C508.13 334.21 507.30 334.34 506.47 334.46 C505.64 334.59 504.81 334.72 503.97 334.85 C503.14 334.97 502.31 335.10 501.48 335.23 C500.65 335.35 499.82 335.48 498.99 335.61 C498.16 335.73 497.33 335.86 496.50 335.99 C495.67 336.11 494.84 336.24 494.01 336.36 C493.17 336.49 492.34 336.61 491.51 336.74 C490.68 336.86 489.85 336.98 489.02 337.11 C488.19 337.23 487.36 337.35 486.53 337.48 C485.69 337.60 484.86 337.72 484.03 337.84 C483.20 337.96 482.37 338.08 481.54 338.20 C480.71 338.32 479.88 338.44 479.04 338.56 C478.21 338.68 477.38 338.80 476.55 338.92 C475.72 339.04 474.89 339.16 474.06 339.27 C473.22 339.39 472.39 339.51 471.56 339.62 C470.73 339.74 469.90 339.85 469.07 339.97 C468.24 340.08 467.40 340.19 466.57 340.31 C465.74 340.42 464.91 340.53 464.08 340.64 C463.25 340.75 462.41 340.86 461.58 340.97 C460.75 341.08 459.92 341.19 459.09 341.30 C458.26 341.41 457.42 341.51 456.59 341.62 C455.76 341.72 454.93 341.83 454.10 341.93 C453.26 342.04 452.43 342.14 451.60 342.24 C450.77 342.35 449.94 342.45 449.11 342.55 C448.27 342.65 447.44 342.75 446.61 342.85 C445.78 342.94 444.95 343.04 444.11 343.14 C443.28 343.23 442.45 343.33 441.62 343.42 C440.79 343.52 439.95 343.61 439.12 343.70 C438.29 343.80 437.46 343.89 436.63 343.98 C435.79 344.07 434.96 344.16 434.13 344.25 C433.30 344.34 432.47 344.43 431.63 344.52 C430.80 344.61 429.97 344.69 429.14 344.78 C428.30 344.87 427.47 344.96 426.64 345.05 C425.81 345.14 424.97 345.23 424.14 345.32 C423.31 345.41 422.48 345.50 421.64 345.59 C420.81 345.68 419.98 345.77 419.15 345.86 C418.31 345.95 417.48 346.04 416.65 346.14 C415.81 346.23 414.98 346.33 414.15 346.42 C413.31 346.52 412.48 346.61 411.65 346.71 C410.81 346.81 409.98 346.91 409.14 347.01 C408.31 347.11 407.48 347.21 406.64 347.32 C405.81 347.42 404.97 347.53 404.14 347.63 C403.30 347.74 402.47 347.85 401.64 347.96 C400.80 348.08 399.97 348.19 399.13 348.31 C398.30 348.42 397.46 348.54 396.62 348.66 C395.79 348.78 394.95 348.91 394.12 349.03 C393.28 349.16 392.45 349.29 391.61 349.42 C390.77 349.55 389.94 349.69 389.10 349.83 C388.26 349.97 387.43 350.11 386.59 350.25 C385.75 350.40 384.91 350.54 384.08 350.70 C383.24 350.85 382.40 351.00 381.56 351.16 C380.73 351.32 379.85 351.43 379.05 351.65 C378.26 351.88 377.37 352.07 376.81 352.50 C376.25 352.92 375.67 353.70 375.71 354.21 C375.75 354.72 376.36 355.26 377.05 355.54 C377.75 355.82 378.95 355.82 379.87 355.92 C380.79 356.01 381.71 356.04 382.58 356.11 C383.44 356.17 384.23 356.23 385.05 356.28 C385.87 356.33 386.68 356.38 387.50 356.43 C388.32 356.48 389.15 356.52 389.98 356.55 C390.81 356.59 391.64 356.62 392.47 356.65 C393.30 356.69 394.14 356.71 394.97 356.74 C395.81 356.76 396.65 356.79 397.48 356.81 C398.32 356.83 399.16 356.85 400.00 356.87 C400.85 356.88 401.69 356.90 402.53 356.92 C403.37 356.94 404.21 356.95 405.05 356.97 C405.89 356.99 406.74 357.00 407.58 357.02 C408.42 357.03 409.26 357.05 410.10 357.07 C410.94 357.08 411.78 357.10 412.62 357.11 C413.46 357.13 414.30 357.14 415.15 357.16 C415.99 357.17 416.83 357.19 417.67 357.20 C418.51 357.22 419.35 357.23 420.19 357.24 C421.03 357.26 421.87 357.27 422.71 357.29 C423.55 357.30 424.39 357.31 425.23 357.33 C426.07 357.34 426.91 357.35 427.75 357.37 C428.59 357.38 429.43 357.39 430.27 357.41 C431.11 357.42 431.95 357.43 432.79 357.44 C433.63 357.46 434.47 357.47 435.31 357.48 C436.15 357.49 436.99 357.50 437.83 357.52 C438.67 357.53 439.51 357.54 440.35 357.55 C441.19 357.56 442.03 357.57 442.87 357.58 C443.71 357.59 444.55 357.60 445.39 357.62 C446.23 357.63 447.07 357.64 447.91 357.65 C448.75 357.66 449.59 357.67 450.42 357.68 C451.26 357.69 452.10 357.70 452.94 357.71 C453.78 357.71 454.62 357.72 455.46 357.73 C456.30 357.74 457.14 357.75 457.98 357.76 C458.82 357.77 459.66 357.78 460.50 357.79 C461.33 357.79 462.17 357.80 463.01 357.81 C463.85 357.82 464.69 357.83 465.53 357.83 C466.37 357.84 467.21 357.85 468.05 357.86 C468.89 357.86 469.72 357.87 470.56 357.88 C471.40 357.88 472.24 357.89 473.08 357.90 C473.92 357.90 474.76 357.91 475.60 357.92 C476.43 357.92 477.27 357.93 478.11 357.93 C478.95 357.94 479.79 357.95 480.63 357.95 C481.47 357.96 482.31 357.96 483.14 357.97 C483.98 357.97 484.82 357.98 485.66 357.98 C486.50 357.99 487.34 357.99 488.18 358.00 C489.02 358.00 489.85 358.00 490.69 358.01 C491.53 358.01 492.37 358.02 493.21 358.02 C494.05 358.02 494.89 358.03 495.73 358.03 C496.56 358.03 497.40 358.04 498.24 358.04 C499.08 358.04 499.92 358.05 500.76 358.05 C501.60 358.05 502.44 358.05 503.27 358.06 C504.11 358.06 504.95 358.06 505.79 358.06 C506.63 358.06 507.47 358.07 508.31 358.07 C509.15 358.07 509.98 358.07 510.82 358.07 C511.66 358.07 512.50 358.07 513.34 358.08 C514.18 358.08 515.02 358.08 515.86 358.08 C516.69 358.08 517.53 358.08 518.37 358.08 C519.21 358.08 520.05 358.08 520.89 358.08 C521.73 358.08 522.57 358.08 523.41 358.08 C524.25 358.08 525.08 358.08 525.92 358.08 C526.76 358.07 527.60 358.07 528.44 358.07 C529.28 358.07 530.12 358.07 530.96 358.07 C531.80 358.07 532.64 358.07 533.48 358.06 C534.32 358.06 535.15 358.06 535.99 358.06 C536.83 358.06 537.67 358.05 538.51 358.05 C539.35 358.05 540.19 358.05 541.03 358.04 C541.87 358.04 542.71 358.04 543.55 358.03 C544.39 358.03 545.23 358.03 546.07 358.02 C546.91 358.02 547.75 358.02 548.59 358.01 C549.43 358.01 550.27 358.00 551.11 358.00 C551.95 358.00 552.79 357.99 553.63 357.99 C554.47 357.98 555.31 357.98 556.15 357.97 C556.99 357.97 557.83 357.96 558.67 357.96 C559.51 357.95 560.35 357.95 561.19 357.94 C562.03 357.94 563.29 357.93 563.71 357.92" stroke="#000000" stroke-width="3.4" stroke-linecap="butt"/>
<path d="M336.15 24.34 C336.14 25.02 336.12 27.08 336.10 28.45 C336.09 29.82 336.07 31.19 336.04 32.55 C336.02 33.92 336.00 35.29 335.97 36.65 C335.94 38.01 335.91 39.38 335.88 40.74 C335.85 42.10 335.82 43.46 335.78 44.82 C335.75 46.18 335.71 47.54 335.67 48.90 C335.63 50.25 335.59 51.61 335.54 52.97 C335.50 54.32 335.45 55.68 335.40 57.03 C335.35 58.38 335.30 59.74 335.25 61.09 C335.20 62.44 335.14 63.79 335.09 65.14 C335.03 66.49 334.97 67.84 334.91 69.19 C334.85 70.54 334.79 71.89 334.72 73.24 C334.66 74.58 334.59 75.93 334.53 77.28 C334.46 78.62 334.39 79.97 334.32 81.31 C334.24 82.66 334.17 84.00 334.09 85.35 C334.02 86.69 333.94 88.04 333.86 89.38 C333.78 90.72 333.70 92.07 333.62 93.41 C333.54 94.75 333.45 96.10 333.37 97.44 C333.28 98.78 333.19 100.12 333.10 101.47 C333.02 102.81 332.92 104.15 332.83 105.49 C332.74 106.83 332.65 108.17 332.55 109.52 C332.45 110.86 332.36 112.20 332.26 113.54 C332.16 114.88 332.06 116.23 331.96 117.57 C331.86 118.91 331.75 120.25 331.65 121.59 C331.54 122.94 331.44 124.28 331.33 125.62 C331.22 126.96 331.11 128.31 331.00 129.65 C330.89 130.99 330.78 132.34 330.67 133.68 C330.56 135.02 330.44 136.37 330.33 137.71 C330.21 139.06 330.09 140.40 329.97 141.75 C329.86 143.09 329.74 144.44 329.62 145.79 C329.50 147.13 329.37 148.48 329.25 149.83 C329.13 151.18 329.00 152.52 328.88 153.87 C328.75 155.22 328.63 156.57 328.50 157.92 C328.37 159.27 328.24 160.63 328.11 161.98 C327.98 163.33 327.85 164.68 327.72 166.04 C327.59 167.39 327.46 168.75 327.32 170.10 C327.19 171.46 327.05 172.81 326.91 174.17 C326.77 175.53 326.63 176.88 326.48 178.24 C326.34 179.60 326.19 180.95 326.04 182.31 C325.89 183.66 325.73 185.02 325.57 186.37 C325.41 187.73 325.25 189.08 325.08 190.44 C324.91 191.79 324.74 193.14 324.56 194.49 C324.38 195.85 324.19 197.20 324.00 198.54 C323.81 199.89 323.61 201.24 323.41 202.58 C323.20 203.93 322.99 205.27 322.77 206.61 C322.55 207.95 322.33 209.29 322.09 210.63 C321.86 211.97 321.61 213.30 321.36 214.63 C321.11 215.96 320.85 217.29 320.58 218.62 C320.31 219.94 320.03 221.27 319.74 222.58 C319.45 223.90 319.15 225.22 318.84 226.53 C318.53 227.84 318.21 229.15 317.88 230.46 C317.55 231.76 317.20 233.06 316.85 234.36 C316.49 235.66 316.12 236.95 315.74 238.24 C315.36 239.53 314.97 240.81 314.57 242.09 C314.16 243.37 313.74 244.64 313.31 245.91 C312.88 247.18 312.43 248.45 311.97 249.70 C311.51 250.96 311.03 252.22 310.54 253.46 C310.05 254.71 309.54 255.95 309.02 257.19 C308.50 258.43 307.96 259.66 307.41 260.88 C306.86 262.10 306.29 263.32 305.70 264.53 C305.11 265.74 304.51 266.95 303.89 268.15 C303.27 269.34 302.63 270.54 301.97 271.72 C301.31 272.90 300.64 274.08 299.94 275.25 C299.25 276.41 298.54 277.57 297.80 278.72 C297.07 279.86 296.32 281.00 295.55 282.12 C294.78 283.24 293.99 284.34 293.18 285.43 C292.37 286.52 291.53 287.60 290.68 288.65 C289.83 289.70 288.96 290.74 288.07 291.75 C287.17 292.77 286.26 293.76 285.32 294.73 C284.39 295.70 283.43 296.65 282.45 297.57 C281.47 298.49 280.47 299.39 279.45 300.26 C278.42 301.12 277.38 301.96 276.31 302.78 C275.24 303.59 274.16 304.38 273.05 305.14 C271.95 305.91 270.82 306.65 269.69 307.36 C268.55 308.08 267.39 308.77 266.22 309.45 C265.05 310.12 263.87 310.77 262.68 311.40 C261.48 312.04 260.27 312.65 259.06 313.25 C257.84 313.84 256.61 314.42 255.38 314.98 C254.15 315.55 252.91 316.09 251.66 316.62 C250.41 317.16 249.16 317.67 247.91 318.18 C246.65 318.69 245.39 319.18 244.12 319.66 C242.86 320.14 241.59 320.60 240.32 321.06 C239.05 321.51 237.77 321.96 236.49 322.39 C235.22 322.82 233.93 323.24 232.65 323.65 C231.36 324.05 230.07 324.45 228.78 324.84 C227.48 325.22 226.19 325.60 224.89 325.96 C223.59 326.33 222.29 326.68 220.98 327.03 C219.68 327.37 218.37 327.71 217.06 328.03 C215.75 328.36 214.43 328.67 213.12 328.98 C211.80 329.28 210.48 329.58 209.16 329.87 C207.84 330.16 206.51 330.44 205.19 330.71 C203.86 330.98 202.53 331.25 201.20 331.50 C199.87 331.76 198.54 332.01 197.21 332.25 C195.87 332.49 194.54 332.73 193.20 332.95 C191.86 333.18 190.52 333.40 189.18 333.62 C187.84 333.83 186.50 334.04 185.16 334.24 C183.81 334.44 182.47 334.64 181.12 334.83 C179.77 335.02 178.43 335.20 177.08 335.38 C175.73 335.56 174.38 335.73 173.03 335.90 C171.68 336.07 170.33 336.24 168.98 336.40 C167.63 336.56 166.27 336.72 164.92 336.87 C163.57 337.03 162.22 337.17 160.86 337.32 C159.51 337.47 158.16 337.61 156.80 337.75 C155.45 337.89 154.09 338.03 152.74 338.16 C151.39 338.30 150.03 338.43 148.68 338.56 C147.32 338.69 145.97 338.82 144.62 338.95 C143.26 339.07 141.91 339.20 140.56 339.32 C139.21 339.45 137.86 339.57 136.51 339.69 C135.16 339.81 133.81 339.94 132.46 340.06 C131.11 340.18 129.76 340.30 128.41 340.42 C127.06 340.54 125.72 340.67 124.37 340.79 C123.03 340.91 121.69 341.03 120.34 341.16 C119.00 341.28 117.66 341.41 116.32 341.54 C114.98 341.66 113.65 341.79 112.31 341.92 C110.98 342.05 109.64 342.19 108.31 342.32 C106.98 342.46 105.65 342.59 104.32 342.73 C102.99 342.88 101.67 343.02 100.35 343.17 C99.02 343.31 97.04 343.54 96.38 343.62" stroke="#ff0000" stroke-width="2.5" stroke-dasharray="2.100 2.355"/>
<path d="M429.28 24.38 C429.25 25.05 429.18 27.08 429.13 28.44 C429.08 29.79 429.03 31.14 428.98 32.49 C428.93 33.84 428.87 35.20 428.82 36.55 C428.77 37.90 428.71 39.25 428.66 40.60 C428.60 41.95 428.54 43.30 428.49 44.65 C428.43 45.99 428.37 47.34 428.31 48.69 C428.25 50.04 428.19 51.39 428.13 52.73 C428.07 54.08 428.01 55.43 427.94 56.78 C427.88 58.12 427.82 59.47 427.75 60.81 C427.68 62.16 427.62 63.51 427.55 64.85 C427.48 66.20 427.41 67.54 427.34 68.89 C427.27 70.23 427.20 71.57 427.13 72.92 C427.06 74.26 426.98 75.61 426.91 76.95 C426.84 78.29 426.76 79.64 426.68 80.98 C426.61 82.32 426.53 83.67 426.45 85.01 C426.37 86.35 426.29 87.69 426.21 89.04 C426.12 90.38 426.04 91.72 425.96 93.06 C425.87 94.40 425.79 95.75 425.70 97.09 C425.61 98.43 425.52 99.77 425.43 101.11 C425.34 102.45 425.25 103.79 425.16 105.14 C425.07 106.48 424.97 107.82 424.88 109.16 C424.78 110.50 424.68 111.84 424.59 113.18 C424.49 114.52 424.39 115.86 424.29 117.20 C424.19 118.55 424.08 119.89 423.98 121.23 C423.87 122.57 423.77 123.91 423.66 125.25 C423.55 126.59 423.45 127.93 423.34 129.27 C423.22 130.61 423.11 131.95 423.00 133.29 C422.89 134.64 422.77 135.98 422.65 137.32 C422.54 138.66 422.42 140.00 422.30 141.34 C422.18 142.68 422.06 144.03 421.93 145.37 C421.81 146.71 421.69 148.05 421.56 149.39 C421.43 150.73 421.30 152.08 421.17 153.42 C421.04 154.76 420.91 156.10 420.78 157.45 C420.64 158.79 420.51 160.13 420.37 161.47 C420.23 162.82 420.09 164.16 419.95 165.50 C419.81 166.85 419.67 168.19 419.52 169.54 C419.38 170.88 419.23 172.22 419.08 173.57 C418.93 174.91 418.78 176.25 418.62 177.60 C418.46 178.94 418.30 180.28 418.14 181.63 C417.97 182.97 417.80 184.31 417.63 185.65 C417.45 186.99 417.27 188.33 417.09 189.67 C416.91 191.01 416.72 192.35 416.52 193.68 C416.33 195.02 416.12 196.35 415.92 197.69 C415.71 199.02 415.49 200.35 415.27 201.69 C415.05 203.02 414.82 204.35 414.59 205.67 C414.35 207.00 414.11 208.33 413.86 209.65 C413.60 210.97 413.34 212.29 413.07 213.61 C412.81 214.93 412.53 216.25 412.24 217.56 C411.95 218.88 411.66 220.19 411.35 221.50 C411.05 222.81 410.73 224.11 410.40 225.42 C410.08 226.72 409.74 228.02 409.39 229.32 C409.04 230.62 408.68 231.91 408.31 233.20 C407.94 234.49 407.56 235.78 407.16 237.06 C406.77 238.35 406.36 239.63 405.94 240.91 C405.52 242.18 405.09 243.46 404.64 244.73 C404.20 246.00 403.74 247.26 403.27 248.52 C402.79 249.78 402.31 251.04 401.80 252.29 C401.30 253.55 400.79 254.80 400.25 256.04 C399.72 257.28 399.18 258.52 398.61 259.75 C398.05 260.99 397.48 262.21 396.88 263.43 C396.29 264.65 395.68 265.86 395.06 267.06 C394.43 268.25 393.79 269.45 393.13 270.63 C392.47 271.81 391.79 272.98 391.10 274.13 C390.41 275.29 389.70 276.43 388.97 277.57 C388.24 278.70 387.50 279.82 386.73 280.92 C385.97 282.02 385.19 283.11 384.39 284.18 C383.59 285.25 382.77 286.31 381.93 287.35 C381.09 288.39 380.23 289.41 379.36 290.41 C378.48 291.41 377.58 292.40 376.66 293.36 C375.75 294.32 374.81 295.26 373.85 296.18 C372.90 297.10 371.92 298.00 370.92 298.88 C369.92 299.75 368.90 300.60 367.86 301.43 C366.82 302.26 365.76 303.07 364.68 303.85 C363.60 304.63 362.50 305.39 361.38 306.13 C360.27 306.87 359.13 307.58 357.99 308.28 C356.84 308.97 355.68 309.65 354.50 310.30 C353.32 310.96 352.13 311.60 350.93 312.22 C349.73 312.83 348.52 313.43 347.30 314.02 C346.08 314.60 344.85 315.16 343.61 315.71 C342.37 316.26 341.12 316.79 339.86 317.31 C338.61 317.83 337.35 318.33 336.08 318.82 C334.81 319.31 333.54 319.78 332.26 320.24 C330.98 320.70 329.69 321.15 328.41 321.58 C327.12 322.02 325.83 322.44 324.54 322.85 C323.24 323.26 321.95 323.66 320.65 324.05 C319.36 324.44 318.06 324.82 316.76 325.19 C315.46 325.56 314.16 325.92 312.85 326.27 C311.55 326.62 310.25 326.96 308.94 327.29 C307.64 327.62 306.33 327.95 305.02 328.26 C303.71 328.58 302.40 328.88 301.09 329.18 C299.78 329.48 298.47 329.77 297.15 330.06 C295.84 330.34 294.52 330.62 293.21 330.89 C291.89 331.16 290.58 331.43 289.26 331.69 C287.94 331.95 286.62 332.20 285.30 332.45 C283.98 332.69 282.66 332.94 281.34 333.17 C280.02 333.41 278.69 333.64 277.37 333.87 C276.05 334.10 274.72 334.33 273.40 334.55 C272.07 334.77 270.74 334.98 269.42 335.20 C268.09 335.41 266.76 335.62 265.44 335.82 C264.11 336.02 262.78 336.22 261.45 336.42 C260.12 336.62 258.79 336.81 257.46 337.00 C256.13 337.19 254.79 337.38 253.46 337.56 C252.13 337.74 250.80 337.92 249.46 338.09 C248.13 338.27 246.80 338.44 245.46 338.61 C244.13 338.78 242.79 338.94 241.46 339.11 C240.12 339.27 238.78 339.43 237.45 339.58 C236.11 339.74 234.77 339.89 233.43 340.04 C232.10 340.19 230.76 340.34 229.42 340.48 C228.08 340.62 226.74 340.76 225.40 340.90 C224.06 341.04 222.72 341.17 221.38 341.31 C220.04 341.44 218.70 341.57 217.36 341.70 C216.01 341.83 214.67 341.95 213.33 342.07 C211.99 342.20 210.64 342.32 209.30 342.43 C207.96 342.55 206.62 342.67 205.27 342.78 C203.93 342.89 202.58 343.00 201.24 343.11 C199.90 343.22 198.55 343.33 197.21 343.43 C195.86 343.54 194.52 343.64 193.17 343.74 C191.83 343.84 190.48 343.94 189.14 344.04 C187.79 344.14 186.44 344.23 185.10 344.33 C183.75 344.42 182.41 344.51 181.06 344.60 C179.71 344.69 178.37 344.78 177.02 344.87 C175.67 344.96 174.33 345.04 172.98 345.13 C171.63 345.21 170.29 345.30 168.94 345.38 C167.59 345.46 166.25 345.54 164.90 345.62 C163.55 345.70 162.21 345.78 160.86 345.86 C159.51 345.94 158.17 346.02 156.82 346.09 C155.47 346.17 154.12 346.24 152.78 346.32 C151.43 346.39 150.08 346.47 148.74 346.54 C147.39 346.61 146.04 346.69 144.70 346.76 C143.35 346.83 142.01 346.90 140.66 346.97 C139.31 347.04 137.97 347.11 136.62 347.18 C135.27 347.25 133.93 347.32 132.58 347.39 C131.24 347.46 129.89 347.53 128.55 347.60 C127.20 347.67 125.86 347.74 124.51 347.81 C123.17 347.88 121.82 347.95 120.48 348.02 C119.14 348.09 117.79 348.15 116.45 348.22 C115.11 348.29 113.76 348.36 112.42 348.43 C111.08 348.50 109.73 348.57 108.39 348.65 C107.05 348.72 105.71 348.79 104.37 348.86 C103.03 348.93 101.69 349.00 100.34 349.08 C99.00 349.15 96.99 349.26 96.32 349.30" stroke="#00ff00" stroke-width="2.5" stroke-dasharray="2.100 2.334"/>
<path d="M548.03 24.40 C548.00 25.07 547.88 27.08 547.81 28.42 C547.73 29.77 547.66 31.11 547.58 32.45 C547.51 33.79 547.43 35.14 547.36 36.48 C547.28 37.82 547.21 39.16 547.14 40.51 C547.06 41.85 546.99 43.19 546.92 44.53 C546.84 45.88 546.77 47.22 546.70 48.56 C546.62 49.90 546.55 51.25 546.48 52.59 C546.40 53.93 546.33 55.27 546.26 56.62 C546.18 57.96 546.11 59.30 546.03 60.64 C545.96 61.98 545.88 63.33 545.81 64.67 C545.73 66.01 545.65 67.35 545.57 68.69 C545.50 70.04 545.42 71.38 545.34 72.72 C545.26 74.06 545.18 75.40 545.10 76.74 C545.02 78.09 544.94 79.43 544.85 80.77 C544.77 82.11 544.69 83.45 544.60 84.79 C544.52 86.13 544.43 87.47 544.34 88.81 C544.25 90.16 544.16 91.50 544.07 92.84 C543.98 94.18 543.89 95.52 543.80 96.86 C543.70 98.20 543.61 99.54 543.51 100.88 C543.41 102.22 543.31 103.56 543.21 104.89 C543.11 106.23 543.01 107.57 542.91 108.91 C542.80 110.25 542.69 111.59 542.59 112.93 C542.48 114.27 542.37 115.60 542.25 116.94 C542.14 118.28 542.02 119.62 541.91 120.96 C541.79 122.29 541.67 123.63 541.55 124.97 C541.42 126.30 541.30 127.64 541.17 128.98 C541.04 130.31 540.91 131.65 540.78 132.99 C540.65 134.32 540.51 135.66 540.37 136.99 C540.24 138.33 540.09 139.66 539.95 141.00 C539.81 142.33 539.66 143.67 539.51 145.00 C539.36 146.34 539.20 147.67 539.05 149.00 C538.89 150.34 538.73 151.67 538.57 153.00 C538.40 154.34 538.24 155.67 538.07 157.00 C537.90 158.33 537.72 159.66 537.55 160.99 C537.37 162.33 537.19 163.66 537.00 164.99 C536.82 166.32 536.63 167.65 536.44 168.98 C536.25 170.31 536.05 171.64 535.85 172.97 C535.65 174.30 535.45 175.63 535.24 176.95 C535.03 178.28 534.82 179.61 534.60 180.94 C534.38 182.26 534.16 183.59 533.93 184.91 C533.71 186.24 533.47 187.56 533.24 188.89 C533.00 190.21 532.76 191.53 532.51 192.85 C532.26 194.17 532.01 195.49 531.75 196.81 C531.49 198.13 531.22 199.45 530.95 200.77 C530.68 202.08 530.40 203.40 530.12 204.71 C529.83 206.03 529.54 207.34 529.25 208.65 C528.95 209.96 528.64 211.27 528.33 212.57 C528.02 213.88 527.70 215.19 527.38 216.49 C527.05 217.79 526.72 219.09 526.38 220.39 C526.04 221.69 525.69 222.99 525.33 224.29 C524.98 225.58 524.61 226.88 524.24 228.17 C523.87 229.46 523.49 230.75 523.10 232.03 C522.71 233.32 522.31 234.60 521.90 235.88 C521.50 237.17 521.08 238.44 520.65 239.72 C520.23 241.00 519.80 242.27 519.35 243.54 C518.91 244.81 518.46 246.08 517.99 247.34 C517.53 248.61 517.06 249.87 516.56 251.12 C516.07 252.38 515.57 253.62 515.05 254.86 C514.52 256.09 513.98 257.32 513.41 258.53 C512.84 259.75 512.25 260.95 511.64 262.13 C511.02 263.31 510.37 264.48 509.70 265.62 C509.02 266.77 508.31 267.90 507.57 269.00 C506.82 270.11 506.04 271.19 505.23 272.25 C504.41 273.31 503.56 274.34 502.68 275.35 C501.80 276.37 500.89 277.36 499.96 278.34 C499.03 279.32 498.07 280.27 497.09 281.21 C496.12 282.16 495.12 283.08 494.11 283.99 C493.10 284.91 492.07 285.80 491.04 286.69 C490.01 287.58 488.97 288.45 487.92 289.32 C486.88 290.19 485.83 291.04 484.78 291.89 C483.73 292.74 482.68 293.58 481.62 294.42 C480.57 295.26 479.51 296.08 478.45 296.91 C477.39 297.73 476.33 298.55 475.27 299.36 C474.21 300.17 473.14 300.99 472.07 301.78 C471.00 302.58 469.93 303.37 468.85 304.15 C467.77 304.92 466.68 305.69 465.58 306.43 C464.48 307.17 463.37 307.90 462.25 308.60 C461.12 309.30 459.99 309.99 458.84 310.64 C457.69 311.29 456.52 311.92 455.34 312.53 C454.16 313.13 452.96 313.71 451.76 314.27 C450.56 314.84 449.34 315.37 448.11 315.90 C446.89 316.42 445.65 316.92 444.40 317.40 C443.15 317.89 441.90 318.35 440.63 318.80 C439.37 319.25 438.10 319.69 436.82 320.11 C435.54 320.53 434.25 320.93 432.96 321.32 C431.67 321.72 430.37 322.10 429.07 322.47 C427.77 322.83 426.47 323.19 425.16 323.54 C423.85 323.89 422.54 324.23 421.23 324.56 C419.92 324.89 418.60 325.21 417.29 325.53 C415.97 325.85 414.65 326.16 413.34 326.47 C412.02 326.77 410.71 327.07 409.39 327.36 C408.07 327.66 406.75 327.94 405.43 328.23 C404.12 328.51 402.80 328.79 401.48 329.06 C400.16 329.33 398.84 329.60 397.52 329.86 C396.20 330.12 394.87 330.37 393.55 330.62 C392.23 330.88 390.91 331.12 389.59 331.36 C388.26 331.60 386.94 331.84 385.62 332.07 C384.29 332.31 382.97 332.53 381.65 332.76 C380.32 332.98 379.00 333.20 377.67 333.42 C376.34 333.63 375.02 333.84 373.69 334.05 C372.37 334.26 371.04 334.46 369.71 334.66 C368.38 334.86 367.06 335.05 365.73 335.25 C364.40 335.44 363.07 335.63 361.74 335.82 C360.42 336.00 359.09 336.18 357.76 336.36 C356.43 336.54 355.10 336.72 353.77 336.90 C352.44 337.07 351.11 337.24 349.77 337.41 C348.44 337.58 347.11 337.74 345.78 337.91 C344.45 338.07 343.12 338.23 341.78 338.39 C340.45 338.55 339.12 338.71 337.79 338.86 C336.45 339.01 335.12 339.17 333.79 339.32 C332.45 339.46 331.12 339.61 329.78 339.76 C328.45 339.90 327.11 340.04 325.78 340.18 C324.44 340.33 323.11 340.46 321.77 340.60 C320.44 340.74 319.10 340.87 317.77 341.00 C316.43 341.13 315.09 341.26 313.76 341.39 C312.42 341.52 311.08 341.64 309.75 341.77 C308.41 341.89 307.07 342.01 305.73 342.13 C304.40 342.25 303.06 342.37 301.72 342.49 C300.38 342.60 299.04 342.72 297.71 342.83 C296.37 342.94 295.03 343.05 293.69 343.16 C292.35 343.27 291.01 343.37 289.67 343.48 C288.33 343.58 286.99 343.69 285.65 343.79 C284.31 343.89 282.97 343.99 281.63 344.09 C280.29 344.19 278.95 344.28 277.61 344.38 C276.27 344.47 274.93 344.57 273.59 344.66 C272.25 344.75 270.91 344.84 269.56 344.93 C268.22 345.02 266.88 345.11 265.54 345.19 C264.20 345.28 262.86 345.36 261.51 345.45 C260.17 345.53 258.83 345.61 257.49 345.69 C256.15 345.77 254.80 345.85 253.46 345.93 C252.12 346.00 250.78 346.08 249.43 346.16 C248.09 346.23 246.75 346.31 245.40 346.38 C244.06 346.45 242.72 346.52 241.38 346.59 C240.03 346.66 238.69 346.73 237.35 346.80 C236.00 346.87 234.66 346.94 233.31 347.00 C231.97 347.07 230.63 347.13 229.28 347.20 C227.94 347.26 226.60 347.32 225.25 347.38 C223.91 347.45 222.56 347.51 221.22 347.57 C219.88 347.63 218.53 347.69 217.19 347.75 C215.84 347.80 214.50 347.86 213.16 347.92 C211.81 347.98 210.47 348.03 209.12 348.09 C207.78 348.14 206.43 348.20 205.09 348.25 C203.75 348.30 202.40 348.36 201.06 348.41 C199.71 348.46 198.37 348.51 197.02 348.57 C195.68 348.62 194.34 348.67 192.99 348.72 C191.65 348.77 190.30 348.82 188.96 348.87 C187.61 348.92 186.27 348.96 184.93 349.01 C183.58 349.06 182.24 349.11 180.89 349.16 C179.55 349.20 178.20 349.25 176.86 349.30 C175.52 349.34 174.17 349.39 172.83 349.43 C171.48 349.48 170.14 349.53 168.80 349.57 C167.45 349.62 166.11 349.66 164.76 349.71 C163.42 349.75 162.08 349.80 160.73 349.84 C159.39 349.89 158.05 349.93 156.70 349.98 C155.36 350.02 154.02 350.06 152.67 350.11 C151.33 350.15 149.99 350.20 148.64 350.24 C147.30 350.29 145.96 350.33 144.62 350.37 C143.27 350.42 141.93 350.46 140.59 350.51 C139.24 350.55 137.90 350.60 136.56 350.64 C135.22 350.69 133.88 350.73 132.53 350.78 C131.19 350.82 129.85 350.87 128.51 350.91 C127.17 350.96 125.83 351.00 124.48 351.05 C123.14 351.10 121.80 351.14 120.46 351.19 C119.12 351.24 117.78 351.28 116.44 351.33 C115.10 351.38 113.76 351.43 112.42 351.47 C111.08 351.52 109.74 351.57 108.40 351.62 C107.06 351.67 105.72 351.72 104.38 351.77 C103.04 351.82 101.70 351.87 100.36 351.92 C99.02 351.98 97.01 352.06 96.34 352.08" stroke="#0000ff" stroke-width="2.5" stroke-dasharray="2.100 2.338"/>
<path d="M96.30 357.48 C96.97 357.47 98.99 357.45 100.34 357.43 C101.68 357.42 103.03 357.40 104.37 357.39 C105.72 357.38 107.06 357.36 108.41 357.35 C109.75 357.33 111.10 357.32 112.45 357.30 C113.79 357.29 115.14 357.27 116.48 357.26 C117.83 357.24 119.17 357.23 120.52 357.22 C121.86 357.20 123.21 357.19 124.55 357.17 C125.90 357.16 127.24 357.14 128.59 357.13 C129.93 357.11 131.28 357.10 132.63 357.08 C133.97 357.07 135.32 357.05 136.66 357.04 C138.01 357.02 139.35 357.01 140.70 356.99 C142.04 356.98 143.39 356.96 144.73 356.95 C146.08 356.93 147.43 356.92 148.77 356.90 C150.12 356.89 151.46 356.87 152.81 356.86 C154.15 356.84 155.50 356.83 156.84 356.81 C158.19 356.80 159.53 356.78 160.88 356.76 C162.23 356.75 163.57 356.73 164.92 356.72 C166.26 356.70 167.61 356.69 168.95 356.67 C170.30 356.65 171.64 356.64 172.99 356.62 C174.33 356.61 175.68 356.59 177.03 356.57 C178.37 356.56 179.72 356.54 181.06 356.52 C182.41 356.51 183.75 356.49 185.10 356.47 C186.44 356.46 187.79 356.44 189.14 356.42 C190.48 356.40 191.83 356.39 193.17 356.37 C194.52 356.35 195.86 356.34 197.21 356.32 C198.55 356.30 199.90 356.28 201.25 356.26 C202.59 356.25 203.94 356.23 205.28 356.21 C206.63 356.19 207.97 356.17 209.32 356.16 C210.66 356.14 212.01 356.12 213.35 356.10 C214.70 356.08 216.05 356.06 217.39 356.04 C218.74 356.02 220.08 356.01 221.43 355.99 C222.77 355.97 224.12 355.95 225.46 355.93 C226.81 355.91 228.16 355.89 229.50 355.87 C230.85 355.85 232.19 355.83 233.54 355.81 C234.88 355.79 236.23 355.77 237.57 355.75 C238.92 355.72 240.27 355.70 241.61 355.68 C242.96 355.66 244.30 355.64 245.65 355.62 C246.99 355.60 248.34 355.57 249.68 355.55 C251.03 355.53 252.37 355.51 253.72 355.49 C255.07 355.46 256.41 355.44 257.76 355.42 C259.10 355.40 260.45 355.37 261.79 355.35 C263.14 355.33 264.48 355.30 265.83 355.28 C267.18 355.26 268.52 355.23 269.87 355.21 C271.21 355.18 272.56 355.16 273.90 355.13 C275.25 355.11 276.59 355.08 277.94 355.06 C279.28 355.03 280.63 355.01 281.97 354.98 C283.32 354.96 284.67 354.93 286.01 354.91 C287.36 354.88 288.70 354.85 290.05 354.83 C291.39 354.80 292.74 354.77 294.08 354.75 C295.43 354.72 296.77 354.69 298.12 354.66 C299.46 354.64 300.81 354.61 302.16 354.58 C303.50 354.55 304.85 354.52 306.19 354.50 C307.54 354.47 308.88 354.44 310.23 354.41 C311.57 354.38 312.92 354.35 314.26 354.32 C315.61 354.29 316.95 354.26 318.30 354.23 C319.64 354.20 320.99 354.17 322.34 354.14 C323.68 354.11 325.03 354.07 326.37 354.04 C327.72 354.01 329.06 353.98 330.41 353.95 C331.75 353.91 333.10 353.88 334.44 353.85 C335.79 353.81 337.13 353.78 338.48 353.75 C339.82 353.71 341.17 353.68 342.51 353.65 C343.86 353.61 345.20 353.58 346.55 353.54 C347.89 353.51 349.24 353.47 350.58 353.44 C351.93 353.40 353.27 353.36 354.62 353.33 C355.96 353.29 357.31 353.26 358.65 353.22 C360.00 353.18 361.34 353.14 362.69 353.11 C364.03 353.07 365.38 353.03 366.72 352.99 C368.07 352.95 369.41 352.91 370.76 352.88 C372.10 352.84 373.45 352.80 374.79 352.76 C376.14 352.72 377.48 352.68 378.83 352.64 C380.17 352.59 381.52 352.55 382.86 352.51 C384.21 352.47 385.55 352.43 386.90 352.39 C388.24 352.34 389.59 352.30 390.93 352.26 C392.28 352.22 393.62 352.17 394.97 352.13 C396.31 352.08 397.66 352.04 399.00 352.00 C400.35 351.95 401.69 351.91 403.04 351.86 C404.38 351.81 405.73 351.77 407.07 351.72 C408.41 351.68 409.76 351.63 411.10 351.58 C412.45 351.53 413.79 351.49 415.14 351.44 C416.48 351.39 417.83 351.34 419.17 351.29 C420.52 351.24 421.86 351.20 423.21 351.15 C424.55 351.10 425.89 351.05 427.24 351.00 C428.58 350.94 429.93 350.89 431.27 350.84 C432.62 350.79 433.96 350.74 435.31 350.69 C436.65 350.63 437.99 350.58 439.34 350.53 C440.68 350.47 442.03 350.42 443.37 350.36 C444.72 350.31 446.06 350.26 447.41 350.20 C448.75 350.15 450.09 350.09 451.44 350.03 C452.78 349.98 454.13 349.92 455.47 349.86 C456.82 349.81 458.16 349.75 459.50 349.69 C460.85 349.63 462.19 349.57 463.54 349.51 C464.88 349.45 466.22 349.39 467.57 349.33 C468.91 349.27 470.26 349.21 471.60 349.15 C472.94 349.09 474.29 349.03 475.63 348.97 C476.98 348.90 478.32 348.84 479.66 348.78 C481.01 348.72 482.35 348.65 483.70 348.59 C485.04 348.52 486.38 348.46 487.73 348.39 C489.07 348.33 490.42 348.26 491.76 348.19 C493.10 348.13 494.45 348.06 495.79 347.99 C497.13 347.93 498.48 347.86 499.82 347.79 C501.17 347.72 502.51 347.65 503.85 347.58 C505.20 347.51 506.54 347.44 507.88 347.37 C509.23 347.30 510.57 347.23 511.91 347.16 C513.26 347.08 514.60 347.01 515.95 346.94 C517.29 346.87 518.63 346.79 519.98 346.72 C521.32 346.64 522.66 346.57 524.01 346.49 C525.35 346.42 526.69 346.34 528.04 346.27 C529.38 346.19 530.72 346.11 532.07 346.03 C533.41 345.96 534.75 345.88 536.10 345.80 C537.44 345.72 538.78 345.64 540.13 345.56 C541.47 345.48 542.81 345.40 544.15 345.32 C545.50 345.24 546.84 345.15 548.18 345.07 C549.53 344.99 550.87 344.91 552.21 344.82 C553.56 344.74 554.90 344.65 556.24 344.57 C557.58 344.48 558.93 344.40 560.27 344.31 C561.61 344.23 562.96 344.14 564.30 344.05 C565.64 343.96 566.98 343.88 568.33 343.79 C569.67 343.70 571.01 343.61 572.36 343.52 C573.70 343.43 575.04 343.34 576.38 343.25 C577.73 343.15 579.07 343.06 580.41 342.97 C581.75 342.88 583.10 342.78 584.44 342.69 C585.78 342.59 587.12 342.50 588.47 342.40 C589.81 342.31 591.15 342.21 592.49 342.12 C593.84 342.02 595.18 341.92 596.52 341.82 C597.86 341.72 599.20 341.63 600.55 341.53 C601.89 341.43 603.23 341.33 604.57 341.23 C605.92 341.12 607.93 340.97 608.60 340.92" stroke="#ff00ff" stroke-width="2.5" stroke-dasharray="2.100 2.340"/>
<path d="M96.30 361.55 C96.97 361.54 98.99 361.54 100.33 361.54 C101.68 361.54 103.02 361.54 104.37 361.54 C105.71 361.54 107.06 361.54 108.40 361.54 C109.75 361.54 111.09 361.54 112.44 361.54 C113.78 361.54 115.13 361.54 116.47 361.54 C117.81 361.53 119.16 361.53 120.50 361.53 C121.85 361.53 123.19 361.53 124.54 361.53 C125.88 361.53 127.23 361.52 128.57 361.52 C129.92 361.52 131.26 361.52 132.61 361.52 C133.95 361.52 135.29 361.51 136.64 361.51 C137.98 361.51 139.33 361.51 140.67 361.50 C142.02 361.50 143.36 361.50 144.71 361.50 C146.05 361.50 147.40 361.49 148.74 361.49 C150.09 361.49 151.43 361.48 152.78 361.48 C154.12 361.48 155.46 361.48 156.81 361.47 C158.15 361.47 159.50 361.47 160.84 361.46 C162.19 361.46 163.53 361.46 164.88 361.45 C166.22 361.45 167.57 361.45 168.91 361.44 C170.26 361.44 171.60 361.43 172.95 361.43 C174.29 361.43 175.63 361.42 176.98 361.42 C178.32 361.42 179.67 361.41 181.01 361.41 C182.36 361.40 183.70 361.40 185.05 361.39 C186.39 361.39 187.74 361.39 189.08 361.38 C190.43 361.38 191.77 361.37 193.11 361.37 C194.46 361.36 195.80 361.36 197.15 361.35 C198.49 361.35 199.84 361.34 201.18 361.34 C202.53 361.33 203.87 361.33 205.22 361.32 C206.56 361.32 207.91 361.31 209.25 361.31 C210.60 361.30 211.94 361.30 213.28 361.29 C214.63 361.29 215.97 361.28 217.32 361.27 C218.66 361.27 220.01 361.26 221.35 361.26 C222.70 361.25 224.04 361.24 225.39 361.24 C226.73 361.23 228.08 361.23 229.42 361.22 C230.76 361.21 232.11 361.21 233.45 361.20 C234.80 361.20 236.14 361.19 237.49 361.18 C238.83 361.18 240.18 361.17 241.52 361.16 C242.87 361.16 244.21 361.15 245.56 361.14 C246.90 361.14 248.24 361.13 249.59 361.12 C250.93 361.12 252.28 361.11 253.62 361.10 C254.97 361.09 256.31 361.09 257.66 361.08 C259.00 361.07 260.35 361.07 261.69 361.06 C263.04 361.05 264.38 361.04 265.73 361.04 C267.07 361.03 268.41 361.02 269.76 361.01 C271.10 361.01 272.45 361.00 273.79 360.99 C275.14 360.98 276.48 360.98 277.83 360.97 C279.17 360.96 280.52 360.95 281.86 360.94 C283.21 360.94 284.55 360.93 285.89 360.92 C287.24 360.91 288.58 360.90 289.93 360.90 C291.27 360.89 292.62 360.88 293.96 360.87 C295.31 360.86 296.65 360.85 298.00 360.85 C299.34 360.84 300.69 360.83 302.03 360.82 C303.37 360.81 304.72 360.80 306.06 360.79 C307.41 360.78 308.75 360.78 310.10 360.77 C311.44 360.76 312.79 360.75 314.13 360.74 C315.48 360.73 316.82 360.72 318.17 360.71 C319.51 360.70 320.85 360.70 322.20 360.69 C323.54 360.68 324.89 360.67 326.23 360.66 C327.58 360.65 328.92 360.64 330.27 360.63 C331.61 360.62 332.96 360.61 334.30 360.60 C335.65 360.59 336.99 360.58 338.33 360.57 C339.68 360.56 341.02 360.55 342.37 360.54 C343.71 360.53 345.06 360.53 346.40 360.52 C347.75 360.51 349.09 360.50 350.44 360.49 C351.78 360.48 353.13 360.47 354.47 360.46 C355.81 360.45 357.16 360.44 358.50 360.43 C359.85 360.42 361.19 360.41 362.54 360.40 C363.88 360.39 365.23 360.37 366.57 360.36 C367.92 360.35 369.26 360.34 370.61 360.33 C371.95 360.32 373.29 360.31 374.64 360.30 C375.98 360.29 377.33 360.28 378.67 360.27 C380.02 360.26 381.36 360.25 382.71 360.24 C384.05 360.23 385.40 360.22 386.74 360.21 C388.09 360.20 389.43 360.19 390.77 360.18 C392.12 360.16 393.46 360.15 394.81 360.14 C396.15 360.13 397.50 360.12 398.84 360.11 C400.19 360.10 401.53 360.09 402.88 360.08 C404.22 360.07 405.57 360.05 406.91 360.04 C408.25 360.03 409.60 360.02 410.94 360.01 C412.29 360.00 413.63 359.99 414.98 359.98 C416.32 359.97 417.67 359.95 419.01 359.94 C420.36 359.93 421.70 359.92 423.05 359.91 C424.39 359.90 425.73 359.89 427.08 359.88 C428.42 359.86 429.77 359.85 431.11 359.84 C432.46 359.83 433.80 359.82 435.15 359.81 C436.49 359.79 437.84 359.78 439.18 359.77 C440.52 359.76 441.87 359.75 443.21 359.74 C444.56 359.73 445.90 359.71 447.25 359.70 C448.59 359.69 449.94 359.68 451.28 359.67 C452.63 359.65 453.97 359.64 455.32 359.63 C456.66 359.62 458.00 359.61 459.35 359.60 C460.69 359.58 462.04 359.57 463.38 359.56 C464.73 359.55 466.07 359.54 467.42 359.52 C468.76 359.51 470.11 359.50 471.45 359.49 C472.80 359.48 474.14 359.46 475.48 359.45 C476.83 359.44 478.17 359.43 479.52 359.42 C480.86 359.40 482.21 359.39 483.55 359.38 C484.90 359.37 486.24 359.36 487.59 359.34 C488.93 359.33 490.28 359.32 491.62 359.31 C492.96 359.30 494.31 359.28 495.65 359.27 C497.00 359.26 498.34 359.25 499.69 359.23 C501.03 359.22 502.38 359.21 503.72 359.20 C505.07 359.19 506.41 359.17 507.75 359.16 C509.10 359.15 510.44 359.14 511.79 359.12 C513.13 359.11 514.48 359.10 515.82 359.09 C517.17 359.08 518.51 359.06 519.86 359.05 C521.20 359.04 522.55 359.03 523.89 359.01 C525.23 359.00 526.58 358.99 527.92 358.98 C529.27 358.96 530.61 358.95 531.96 358.94 C533.30 358.93 534.65 358.91 535.99 358.90 C537.34 358.89 538.68 358.88 540.03 358.87 C541.37 358.85 542.71 358.84 544.06 358.83 C545.40 358.82 546.75 358.80 548.09 358.79 C549.44 358.78 550.78 358.77 552.13 358.75 C553.47 358.74 554.82 358.73 556.16 358.72 C557.50 358.70 558.85 358.69 560.19 358.68 C561.54 358.67 562.88 358.65 564.23 358.64 C565.57 358.63 566.92 358.62 568.26 358.60 C569.61 358.59 570.95 358.58 572.30 358.57 C573.64 358.55 574.98 358.54 576.33 358.53 C577.67 358.52 579.02 358.51 580.36 358.49 C581.71 358.48 583.05 358.47 584.40 358.46 C585.74 358.44 587.09 358.43 588.43 358.42 C589.78 358.41 591.12 358.39 592.46 358.38 C593.81 358.37 595.15 358.36 596.50 358.34 C597.84 358.33 599.19 358.32 600.53 358.31 C601.88 358.30 603.22 358.28 604.57 358.27 C605.91 358.26 607.93 358.24 608.60 358.23" stroke="#000000" stroke-width="2.5" stroke-dasharray="2.100 2.337"/>
</g>
<rect x="96.0" y="23.4" width="514.5" height="342.6" fill="none" stroke="#000" stroke-width="1.33"/>
<path d="M189.3 38.70H218.9" stroke="#ff0000" stroke-width="3.4" fill="none"/>
<path d="M189.3 58.30H218.9" stroke="#00ff00" stroke-width="3.4" fill="none"/>
<path d="M189.3 77.90H218.9" stroke="#0000ff" stroke-width="3.4" fill="none"/>
<path d="M189.3 97.50H218.9" stroke="#ff00ff" stroke-width="3.4" fill="none"/>
<path d="M189.3 117.10H218.9" stroke="#000000" stroke-width="3.4" fill="none"/>
<path d="M142.4 291.9L161.2 322.2" stroke="#808080" stroke-width="1.5" fill="none"/><path d="M153.3 315.3L161.8 323.1L158.8 311.9" stroke="#808080" stroke-width="1.3" fill="#808080" fill-opacity="0.55" stroke-linejoin="miter"/>

<g font-size="17.6px" text-anchor="end">
<text x="84" y="42.9">12</text><text x="84" y="97.6">10</text><text x="84" y="152.4">8</text><text x="84" y="207.1">6</text>
<text x="84" y="261.9">4</text><text x="84" y="316.6">2</text><text x="84" y="372.4">0</text>
</g>
<g font-size="17.6px" text-anchor="middle">
<text x="97.8" y="391.8">5</text><text x="191.3" y="391.8">6</text><text x="284.8" y="391.8">7</text><text x="378.3" y="391.8">8</text><text x="471.8" y="391.8">9</text><text x="566.2" y="391.8">10</text>
</g>
<g font-size="19.5px">
<text x="17.6" y="78">M</text><text class="sy" transform="translate(38.9 78.6) scale(1.25 1.06)">α</text><text x="51.7" y="67.9" font-size="15px">2</text>
<text class="sy" transform="translate(115.9 46.00) scale(1.2 1.06)">α</text><path d="M129.6 39.60H139.1M129.6 42.70H139.1" stroke="#000" stroke-width="1.4" fill="none"/><text x="139.7" y="45.50">0.26</text><text class="sy" transform="translate(115.9 65.60) scale(1.2 1.06)">α</text><path d="M129.6 59.20H139.1M129.6 62.30H139.1" stroke="#000" stroke-width="1.4" fill="none"/><text x="139.7" y="65.10">0.23</text><text class="sy" transform="translate(115.9 85.20) scale(1.2 1.06)">α</text><path d="M129.6 78.80H139.1M129.6 81.90H139.1" stroke="#000" stroke-width="1.4" fill="none"/><text x="139.7" y="84.70">0.20</text><text class="sy" transform="translate(115.9 104.80) scale(1.2 1.06)">α</text><path d="M129.6 98.40H139.1M129.6 101.50H139.1" stroke="#000" stroke-width="1.4" fill="none"/><text x="139.7" y="104.30">0.15</text><text class="sy" transform="translate(115.9 124.40) scale(1.2 1.06)">α</text><path d="M129.6 118.00H139.1M129.6 121.10H139.1" stroke="#000" stroke-width="1.4" fill="none"/><text x="139.7" y="123.90">0.10</text>
<text x="124.3" y="284.7">RN</text>
<text class="sy" transform="translate(338.5 419.2) scale(1.18 0.96)">μ</text><text x="350.2" y="424.8" font-size="15.6px">ch</text>
</g>

</svg>
</body></html>
